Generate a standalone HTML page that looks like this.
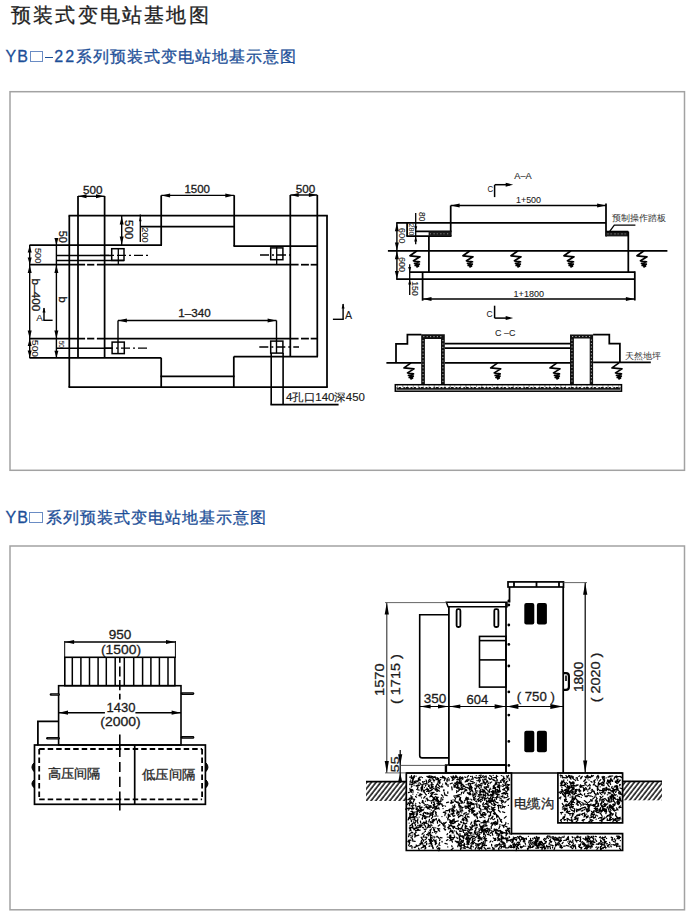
<!DOCTYPE html>
<html><head><meta charset="utf-8"><title>预装式变电站基地图</title>
<style>
html,body{margin:0;padding:0;background:#fff;}
body{width:700px;height:919px;position:relative;overflow:hidden;font-family:"Liberation Sans",sans-serif;}
.t1{position:absolute;font-size:20px;letter-spacing:2.2px;color:#1f1f1f;line-height:24px;white-space:nowrap;-webkit-text-stroke:0.3px #1f1f1f;}
.t2{position:absolute;font-size:16px;color:#1d4f98;line-height:20px;white-space:nowrap;-webkit-text-stroke:0.3px #1d4f98;}
.t2.c{letter-spacing:1px;-webkit-text-stroke:0.3px #1d4f98;}
.box{position:absolute;left:9.5px;width:673.5px;border:1.4px solid #a8a8a8;}
.sq{position:absolute;width:11.7px;height:8.9px;border:1px solid #6a8cc4;}
.dsh{position:absolute;width:7.8px;height:1.6px;background:#1d4f98;}
</style></head><body>
<div class="t1" style="left:11px;top:3px">预装式变电站基地图</div>
<div class="t2" style="left:5.5px;top:47.2px;letter-spacing:1.2px">YB</div>
<div class="sq" style="left:29.5px;top:51.4px"></div>
<div class="dsh" style="left:44.8px;top:56.7px"></div>
<div class="t2" style="left:54.2px;top:47.2px;letter-spacing:2.2px">22</div>
<div class="t2 c" style="left:75.8px;top:47.2px">系列预装式变电站地基示意图</div>
<div class="t2" style="left:5.5px;top:508.2px;letter-spacing:1.2px">YB</div>
<div class="sq" style="left:29.2px;top:512.1px"></div>
<div class="t2 c" style="left:46.4px;top:508.2px">系列预装式变电站地基示意图</div>
<svg width="700" height="919" viewBox="0 0 700 919" style="position:absolute;left:0;top:0" stroke="#000" stroke-width="1.75" fill="none" font-family="'Liberation Sans', sans-serif"><defs>
<pattern id="hatch" patternUnits="userSpaceOnUse" width="3.7" height="3.7" patternTransform="rotate(-52)"><line x1="0" y1="1" x2="3.7" y2="1" stroke="#000" stroke-width="1.45"/></pattern>
</defs><rect x="10" y="91.7" width="674.5" height="378.6" stroke-width="1.5" stroke="#a2a2a2"/>
<rect x="10" y="546" width="674.5" height="363.8" stroke-width="1.5" stroke="#a2a2a2"/>
<line x1="78" y1="196" x2="78" y2="358"/>
<line x1="104.6" y1="196" x2="104.6" y2="358"/>
<line x1="161.2" y1="195.4" x2="161.2" y2="245"/>
<line x1="161.2" y1="357.7" x2="161.2" y2="387.2"/>
<line x1="234.2" y1="195.2" x2="234.2" y2="246"/>
<line x1="233.8" y1="356.5" x2="233.8" y2="387.2"/>
<line x1="290.3" y1="195" x2="290.3" y2="356.5"/>
<line x1="317.3" y1="195" x2="317.3" y2="356.5"/>
<line x1="69.3" y1="215.7" x2="69.3" y2="387.2"/>
<line x1="327" y1="215.5" x2="327" y2="387.2"/>
<line x1="68.5" y1="215.7" x2="327.8" y2="215.7"/>
<line x1="140.5" y1="226.5" x2="234.2" y2="226.5"/>
<line x1="29.5" y1="245" x2="162" y2="245"/>
<line x1="233.4" y1="246" x2="318" y2="246"/>
<line x1="29.5" y1="357.9" x2="161.2" y2="357.9"/>
<line x1="233.8" y1="356.5" x2="318" y2="356.5"/>
<line x1="160.4" y1="376.4" x2="234.6" y2="376.4"/>
<line x1="68.5" y1="387.2" x2="327.8" y2="387.2"/>
<line x1="29.5" y1="264.7" x2="85.1" y2="264.7"/>
<line x1="87.1" y1="264.7" x2="94.3" y2="264.7"/>
<line x1="96.9" y1="264.7" x2="298.6" y2="264.7"/>
<line x1="301" y1="264.7" x2="308.9" y2="264.7"/>
<line x1="310.7" y1="264.7" x2="317.3" y2="264.7"/>
<line x1="29.5" y1="338.6" x2="85.1" y2="338.6"/>
<line x1="87.1" y1="338.6" x2="94.3" y2="338.6"/>
<line x1="96.9" y1="338.6" x2="298.6" y2="338.6"/>
<line x1="301" y1="338.6" x2="308.9" y2="338.6"/>
<line x1="310.7" y1="338.6" x2="317.3" y2="338.6"/>
<rect x="111.7" y="248.7" width="12.3" height="11.7" stroke-width="1.5"/>
<rect x="270.7" y="247.9" width="12.2" height="11.8" stroke-width="1.5"/>
<rect x="112.1" y="342.1" width="12.2" height="11.5" stroke-width="1.5"/>
<rect x="270.7" y="341.1" width="12.2" height="12" stroke-width="1.5"/>
<line x1="118.3" y1="248" x2="118.3" y2="265" stroke-width="1.3"/>
<line x1="276.7" y1="247" x2="276.7" y2="265" stroke-width="1.3"/>
<line x1="118" y1="320.5" x2="118" y2="353.6" stroke-width="1.4"/>
<line x1="276.5" y1="320.5" x2="276.5" y2="353.1" stroke-width="1.4"/>
<line x1="100" y1="255.3" x2="149" y2="255.3" stroke-width="1.3" stroke-dasharray="9 3 2 3"/>
<line x1="260" y1="255" x2="294" y2="255" stroke-width="1.3" stroke-dasharray="9 3 2 3"/>
<line x1="104" y1="348.2" x2="149" y2="348.2" stroke-width="1.3" stroke-dasharray="9 3 2 3"/>
<line x1="259.3" y1="347" x2="299" y2="347" stroke-width="1.3" stroke-dasharray="9 3 2 3"/>
<line x1="56.4" y1="255.5" x2="111.7" y2="255.5" stroke-width="1.4"/>
<line x1="56.4" y1="260.5" x2="124" y2="260.5" stroke-width="1.4"/>
<line x1="56.4" y1="348.3" x2="112.1" y2="348.3" stroke-width="1.4"/>
<line x1="78" y1="196.3" x2="104.6" y2="196.3" stroke-width="1.4"/>
<path d="M78.5 196.3 L86.5 194.3 L86.5 198.3 Z" fill="#000" stroke="none"/>
<path d="M104 196.3 L96 194.3 L96 198.3 Z" fill="#000" stroke="none"/>
<line x1="161.2" y1="195.4" x2="234.2" y2="195.4" stroke-width="1.4"/>
<path d="M161.6 195.4 L170.1 193.4 L170.1 197.4 Z" fill="#000" stroke="none"/>
<path d="M233.8 195.4 L225.3 193.4 L225.3 197.4 Z" fill="#000" stroke="none"/>
<line x1="290.3" y1="195" x2="317.3" y2="195" stroke-width="1.4"/>
<path d="M290.7 195 L298.7 193 L298.7 197 Z" fill="#000" stroke="none"/>
<path d="M316.9 195 L308.9 193 L308.9 197 Z" fill="#000" stroke="none"/>
<line x1="121.7" y1="216" x2="121.7" y2="245" stroke-width="1.4"/>
<path d="M121.7 216.4 L119.7 224.4 L123.7 224.4 Z" fill="#000" stroke="none"/>
<path d="M121.7 244.6 L119.7 236.6 L123.7 236.6 Z" fill="#000" stroke="none"/>
<line x1="140.3" y1="214.5" x2="140.3" y2="242" stroke-width="1.3"/>
<path d="M140.3 216.2 L139 221.2 L141.6 221.2 Z" fill="#000" stroke="none"/>
<line x1="56.4" y1="239.4" x2="56.4" y2="358" stroke-width="1.4"/>
<path d="M56.4 245 L54.4 238 L58.4 238 Z" fill="#000" stroke="none"/>
<path d="M56.4 265 L54.4 273 L58.4 273 Z" fill="#000" stroke="none"/>
<path d="M56.4 338.6 L54.4 330.6 L58.4 330.6 Z" fill="#000" stroke="none"/>
<path d="M56.4 357.7 L54.4 350.7 L58.4 350.7 Z" fill="#000" stroke="none"/>
<line x1="29.7" y1="245" x2="29.7" y2="358" stroke-width="1.4"/>
<path d="M29.7 245.4 L27.7 252.4 L31.7 252.4 Z" fill="#000" stroke="none"/>
<path d="M29.7 264.5 L27.7 257.5 L31.7 257.5 Z" fill="#000" stroke="none"/>
<path d="M29.7 265 L27.7 273 L31.7 273 Z" fill="#000" stroke="none"/>
<path d="M29.7 338.4 L27.7 330.4 L31.7 330.4 Z" fill="#000" stroke="none"/>
<path d="M29.7 339 L27.7 346 L31.7 346 Z" fill="#000" stroke="none"/>
<path d="M29.7 357.5 L27.7 350.5 L31.7 350.5 Z" fill="#000" stroke="none"/>
<line x1="118" y1="320.5" x2="276.5" y2="320.5" stroke-width="1.4"/>
<path d="M118.4 320.5 L126.9 318.5 L126.9 322.5 Z" fill="#000" stroke="none"/>
<path d="M276.1 320.5 L267.6 318.5 L267.6 322.5 Z" fill="#000" stroke="none"/>
<line x1="271.2" y1="353" x2="271.2" y2="404.6" stroke-width="1.6"/>
<line x1="283.1" y1="353" x2="283.1" y2="404.6" stroke-width="1.6"/>
<line x1="270.4" y1="404.6" x2="338.6" y2="404.6" stroke-width="1.6"/>
<line x1="44" y1="308" x2="44" y2="320.3" stroke-width="1.4"/>
<path d="M44 307.5 L42.5 312.5 L45.5 312.5 Z" fill="#000" stroke="none"/>
<line x1="43.3" y1="320.3" x2="52.6" y2="320.3" stroke-width="1.4"/>
<line x1="332.9" y1="319.3" x2="343.8" y2="319.3" stroke-width="1.4"/>
<line x1="343.1" y1="319.3" x2="343.1" y2="304" stroke-width="1.4"/>
<path d="M343.1 303.5 L341.6 308.5 L344.6 308.5 Z" fill="#000" stroke="none"/>
<text x="92.8" y="193.5" font-size="11" fill="#1a1a1a" stroke="#1a1a1a" stroke-width="0.3" text-anchor="middle" textLength="19.5" lengthAdjust="spacingAndGlyphs">500</text>
<text x="197.2" y="192.7" font-size="11" fill="#1a1a1a" stroke="#1a1a1a" stroke-width="0.3" text-anchor="middle" textLength="25.6" lengthAdjust="spacingAndGlyphs">1500</text>
<text x="305.5" y="193.2" font-size="11" fill="#1a1a1a" stroke="#1a1a1a" stroke-width="0.3" text-anchor="middle" textLength="19.5" lengthAdjust="spacingAndGlyphs">500</text>
<text transform="translate(125.2 229.6) rotate(90)" x="0" y="0" font-size="11.5" fill="#1a1a1a" stroke="#1a1a1a" stroke-width="0.3" text-anchor="middle" textLength="19.3" lengthAdjust="spacingAndGlyphs">500</text>
<text transform="translate(142.2 235) rotate(90)" x="0" y="0" font-size="9" fill="#1a1a1a" stroke="#1a1a1a" stroke-width="0.08" text-anchor="middle" textLength="15.5" lengthAdjust="spacingAndGlyphs">200</text>
<text transform="translate(59.3 236.8) rotate(90)" x="0" y="0" font-size="11" fill="#1a1a1a" stroke="#1a1a1a" stroke-width="0.3" text-anchor="middle" textLength="12.2" lengthAdjust="spacingAndGlyphs">50</text>
<text transform="translate(35.1 255.7) rotate(90)" x="0" y="0" font-size="9" fill="#1a1a1a" stroke="#1a1a1a" stroke-width="0.08" text-anchor="middle" textLength="15.5" lengthAdjust="spacingAndGlyphs">500</text>
<text transform="translate(32 295) rotate(90)" x="0" y="0" font-size="11" fill="#1a1a1a" stroke="#1a1a1a" stroke-width="0.3" text-anchor="middle" textLength="32.8" lengthAdjust="spacingAndGlyphs">b–400</text>
<text transform="translate(58.8 299.6) rotate(90)" x="0" y="0" font-size="11" fill="#1a1a1a" stroke="#1a1a1a" stroke-width="0.3" text-anchor="middle">b</text>
<text transform="translate(32 348.5) rotate(90)" x="0" y="0" font-size="9.5" fill="#1a1a1a" stroke="#1a1a1a" stroke-width="0.08" text-anchor="middle" textLength="17" lengthAdjust="spacingAndGlyphs">500</text>
<text transform="translate(59.2 344.3) rotate(90)" x="0" y="0" font-size="7" fill="#1a1a1a" stroke="#1a1a1a" stroke-width="0.08" text-anchor="middle" textLength="7.2" lengthAdjust="spacingAndGlyphs">50</text>
<text x="178.3" y="317.2" font-size="11" fill="#1a1a1a" stroke="#1a1a1a" stroke-width="0.3" textLength="32.4" lengthAdjust="spacingAndGlyphs">1–340</text>
<text x="286" y="401.3" font-size="11" fill="#1a1a1a" stroke="#1a1a1a" stroke-width="0.15" textLength="79" lengthAdjust="spacingAndGlyphs">4孔口140深450</text>
<text x="36.2" y="320.8" font-size="9" fill="#1a1a1a" stroke="#1a1a1a" stroke-width="0.08" textLength="6.6" lengthAdjust="spacingAndGlyphs">A</text>
<text x="345" y="319.4" font-size="10" fill="#1a1a1a" stroke="#1a1a1a" stroke-width="0.08" textLength="7.1" lengthAdjust="spacingAndGlyphs">A</text>
<line x1="450.7" y1="205.5" x2="450.7" y2="236.1"/>
<line x1="606" y1="203.6" x2="606" y2="236.4"/>
<line x1="450.7" y1="205.5" x2="606" y2="205.5" stroke-width="1.4"/>
<path d="M451.1 205.5 L459.6 203.5 L459.6 207.5 Z" fill="#000" stroke="none"/>
<path d="M605.6 205.5 L597.1 203.5 L597.1 207.5 Z" fill="#000" stroke="none"/>
<line x1="396.2" y1="222.9" x2="606" y2="222.9"/>
<line x1="407.1" y1="222.9" x2="407.1" y2="236.1"/>
<line x1="406.3" y1="236.1" x2="451.5" y2="236.1"/>
<line x1="415" y1="231.4" x2="451.5" y2="231.4"/>
<rect x="428.6" y="231.4" width="22.1" height="4.8" fill="#1a1a1a" stroke="none"/>
<line x1="428.9" y1="236" x2="428.9" y2="272"/>
<line x1="387.9" y1="250.8" x2="667.4" y2="250.8"/>
<rect x="605.9" y="231.6" width="22.7" height="4.8" fill="#1a1a1a" stroke="none"/>
<line x1="606" y1="231.6" x2="628.3" y2="231.6"/>
<line x1="607.5" y1="233.9" x2="627" y2="233.9" stroke-width="0.9" stroke="#bbb" stroke-dasharray="1 2.2 0.8 3"/>
<line x1="430" y1="233.8" x2="449.5" y2="233.8" stroke-width="0.9" stroke="#bbb" stroke-dasharray="0.8 2.8 1 2.2"/>
<line x1="628.3" y1="231.6" x2="628.3" y2="272"/>
<path d="M609.7 231.4 L614.3 225.1 L635.4 225.1" stroke-width="1.3"/>
<line x1="409.7" y1="272.1" x2="634.8" y2="272.1"/>
<line x1="396.2" y1="279.2" x2="634.8" y2="279.2"/>
<line x1="634.8" y1="271.3" x2="634.8" y2="300.5"/>
<line x1="422.6" y1="272" x2="422.6" y2="300.7"/>
<line x1="422.6" y1="299" x2="634.8" y2="299" stroke-width="1.4"/>
<path d="M423 299 L431.5 297 L431.5 301 Z" fill="#000" stroke="none"/>
<path d="M634.4 299 L625.9 297 L625.9 301 Z" fill="#000" stroke="none"/>
<line x1="396.9" y1="222.9" x2="396.9" y2="279.3" stroke-width="1.4"/>
<path d="M396.9 223.3 L394.9 231.3 L398.9 231.3 Z" fill="#000" stroke="none"/>
<path d="M396.9 250.4 L394.9 242.4 L398.9 242.4 Z" fill="#000" stroke="none"/>
<path d="M396.9 251.2 L394.9 259.2 L398.9 259.2 Z" fill="#000" stroke="none"/>
<path d="M396.9 278.9 L394.9 270.9 L398.9 270.9 Z" fill="#000" stroke="none"/>
<line x1="415.7" y1="212.9" x2="415.7" y2="244.3" stroke-width="1.3"/>
<line x1="409.7" y1="264.3" x2="409.7" y2="295" stroke-width="1.3"/>
<path d="M415.7 231.2 L414.2 226.2 L417.2 226.2 Z" fill="#000" stroke="none"/>
<path d="M415.7 236.5 L414.2 241.5 L417.2 241.5 Z" fill="#000" stroke="none"/>
<path d="M409.7 271.9 L408.2 266.9 L411.2 266.9 Z" fill="#000" stroke="none"/>
<path d="M409.7 279.4 L408.2 284.4 L411.2 284.4 Z" fill="#000" stroke="none"/>
<line x1="494.6" y1="185" x2="494.6" y2="197.1" stroke-width="1.5"/>
<line x1="494.6" y1="184.7" x2="510" y2="184.7" stroke-width="1.5"/>
<path d="M513.2 184.7 L505.7 182.7 L505.7 186.7 Z" fill="#000" stroke="none"/>
<line x1="494.6" y1="305.7" x2="494.6" y2="318.1" stroke-width="1.5"/>
<line x1="494.6" y1="318.1" x2="510" y2="318.1" stroke-width="1.5"/>
<path d="M513.2 318.1 L505.7 316.1 L505.7 320.1 Z" fill="#000" stroke="none"/>
<path d="M417 250.8 L410 255.8 L420 256.8 L413.5 260.8 L419.5 261.8 L414.5 263.3 L419.3 264.1 L415.2 265.4 L418.6 266 L416.4 267.2" stroke-width="1.7" stroke-linejoin="round"/>
<path d="M470 250.8 L463 255.8 L473 256.8 L466.5 260.8 L472.5 261.8 L467.5 263.3 L472.3 264.1 L468.2 265.4 L471.6 266 L469.4 267.2" stroke-width="1.7" stroke-linejoin="round"/>
<path d="M518 250.8 L511 255.8 L521 256.8 L514.5 260.8 L520.5 261.8 L515.5 263.3 L520.3 264.1 L516.2 265.4 L519.6 266 L517.4 267.2" stroke-width="1.7" stroke-linejoin="round"/>
<path d="M571 250.8 L564 255.8 L574 256.8 L567.5 260.8 L573.5 261.8 L568.5 263.3 L573.3 264.1 L569.2 265.4 L572.6 266 L570.4 267.2" stroke-width="1.7" stroke-linejoin="round"/>
<path d="M644 250.8 L637 255.8 L647 256.8 L640.5 260.8 L646.5 261.8 L641.5 263.3 L646.3 264.1 L642.2 265.4 L645.6 266 L643.4 267.2" stroke-width="1.7" stroke-linejoin="round"/>
<text x="514.3" y="178.7" font-size="8.5" fill="#1a1a1a" stroke="#1a1a1a" stroke-width="0.08" textLength="17.4" lengthAdjust="spacingAndGlyphs">A–A</text>
<text x="487.6" y="192.3" font-size="9.5" fill="#1a1a1a" stroke="#1a1a1a" stroke-width="0.08" textLength="5.6" lengthAdjust="spacingAndGlyphs">C</text>
<text x="516" y="203" font-size="9" fill="#1a1a1a" stroke="#1a1a1a" stroke-width="0.08" textLength="25" lengthAdjust="spacingAndGlyphs">1+500</text>
<text x="513.6" y="296.8" font-size="9" fill="#1a1a1a" stroke="#1a1a1a" stroke-width="0.08" textLength="30.4" lengthAdjust="spacingAndGlyphs">1+1800</text>
<text x="486.6" y="316.5" font-size="9.5" fill="#1a1a1a" stroke="#1a1a1a" stroke-width="0.08" textLength="6" lengthAdjust="spacingAndGlyphs">C</text>
<text x="495" y="335.8" font-size="8.5" fill="#1a1a1a" stroke="#1a1a1a" stroke-width="0.08" textLength="20.4" lengthAdjust="spacingAndGlyphs">C –C</text>
<text x="612" y="221.2" font-size="9" fill="#333" stroke="none" stroke-width="0" textLength="54" lengthAdjust="spacingAndGlyphs">预制操作踏板</text>
<text transform="translate(398.9 235.7) rotate(90)" x="0" y="0" font-size="9" fill="#1a1a1a" stroke="#1a1a1a" stroke-width="0.08" text-anchor="middle" textLength="15.7" lengthAdjust="spacingAndGlyphs">600</text>
<text transform="translate(399.2 264.6) rotate(90)" x="0" y="0" font-size="9" fill="#1a1a1a" stroke="#1a1a1a" stroke-width="0.08" text-anchor="middle" textLength="15" lengthAdjust="spacingAndGlyphs">600</text>
<text transform="translate(409.3 229.6) rotate(90)" x="0" y="0" font-size="7" fill="#1a1a1a" stroke="#1a1a1a" stroke-width="0.08" text-anchor="middle" textLength="12.1" lengthAdjust="spacingAndGlyphs">280</text>
<text transform="translate(419.1 216.7) rotate(90)" x="0" y="0" font-size="9" fill="#1a1a1a" stroke="#1a1a1a" stroke-width="0.08" text-anchor="middle" textLength="9.3" lengthAdjust="spacingAndGlyphs">80</text>
<text transform="translate(411.8 288.5) rotate(90)" x="0" y="0" font-size="9" fill="#1a1a1a" stroke="#1a1a1a" stroke-width="0.08" text-anchor="middle" textLength="14.3" lengthAdjust="spacingAndGlyphs">150</text>
<path d="M386.4 362.9 L421.4 362.9"/>
<path d="M396 362.9 L396 343.9 L407.4 343.9 L407.4 334.7 L421.4 334.7"/>
<path d="M421.2 384.5 V334.3 H444.8 V384.5 H441 V339 H424.9 V384.5 Z" fill="#111" stroke="none"/>
<line x1="423.05" y1="340" x2="423.05" y2="383" stroke-width="0.8" stroke="#ddd" stroke-dasharray="1.2 2.2"/>
<line x1="442.9" y1="340" x2="442.9" y2="383" stroke-width="0.8" stroke="#ddd" stroke-dasharray="1.2 2.2"/>
<line x1="423.2" y1="336.65" x2="442.8" y2="336.65" stroke-width="0.8" stroke="#ddd" stroke-dasharray="1.2 2.2"/>
<path d="M570 384.5 V334.5 H593.1 V384.5 H589.7 V338.6 H573.9 V384.5 Z" fill="#111" stroke="none"/>
<line x1="571.95" y1="339.6" x2="571.95" y2="383" stroke-width="0.8" stroke="#ddd" stroke-dasharray="1.2 2.2"/>
<line x1="591.4" y1="339.6" x2="591.4" y2="383" stroke-width="0.8" stroke="#ddd" stroke-dasharray="1.2 2.2"/>
<line x1="572" y1="336.55" x2="591.1" y2="336.55" stroke-width="0.8" stroke="#ddd" stroke-dasharray="1.2 2.2"/>
<line x1="444.8" y1="343.7" x2="570" y2="343.7"/>
<line x1="444.8" y1="348.1" x2="570" y2="348.1"/>
<line x1="444.8" y1="362.9" x2="570" y2="362.9"/>
<path d="M593.1 334.7 L609.3 334.7 L609.3 343.6 L619.9 343.6 L619.9 362.4"/>
<line x1="593.1" y1="362.4" x2="650.8" y2="362.4"/>
<rect x="395.3" y="384.7" width="226.2" height="6.5" stroke-width="1.5" fill="#fff"/>
<line x1="396.5" y1="388.3" x2="620.5" y2="388.3" stroke-width="2.8" stroke="#111"/>
<line x1="397.5" y1="387.6" x2="619.5" y2="387.6" stroke-width="1" stroke="#fff" stroke-dasharray="1.2 2.2 2.5 1.5 0.8 3 1.8 2"/>
<line x1="397" y1="386" x2="619.5" y2="386" stroke-width="0.9" stroke="#333" stroke-dasharray="1 4 1.5 3.5 0.8 5"/>
<path d="M411 362.9 L404 367.9 L414 368.9 L407.5 372.9 L413.5 373.9 L408.5 375.4 L413.3 376.2 L409.2 377.5 L412.6 378.1 L410.4 379.3" stroke-width="1.7" stroke-linejoin="round"/>
<path d="M497.7 362.9 L490.7 367.9 L500.7 368.9 L494.2 372.9 L500.2 373.9 L495.2 375.4 L500 376.2 L495.9 377.5 L499.3 378.1 L497.1 379.3" stroke-width="1.7" stroke-linejoin="round"/>
<path d="M557 362.9 L550 367.9 L560 368.9 L553.5 372.9 L559.5 373.9 L554.5 375.4 L559.3 376.2 L555.2 377.5 L558.6 378.1 L556.4 379.3" stroke-width="1.7" stroke-linejoin="round"/>
<path d="M619 362.9 L612 367.9 L622 368.9 L615.5 372.9 L621.5 373.9 L616.5 375.4 L621.3 376.2 L617.2 377.5 L620.6 378.1 L618.4 379.3" stroke-width="1.7" stroke-linejoin="round"/>
<text x="625.1" y="359.1" font-size="9" fill="#333" stroke="none" stroke-width="0" textLength="36" lengthAdjust="spacingAndGlyphs">天然地坪</text>
<line x1="64.7" y1="642" x2="175.4" y2="642" stroke-width="1.4"/>
<path d="M65.1 642 L74.1 639.9 L74.1 644.1 Z" fill="#000" stroke="none"/>
<path d="M175 642 L166 639.9 L166 644.1 Z" fill="#000" stroke="none"/>
<line x1="64.7" y1="641" x2="64.7" y2="658" stroke-width="1"/>
<line x1="175.4" y1="641" x2="175.4" y2="658" stroke-width="1"/>
<text x="120" y="638.9" font-size="13.5" fill="#1a1a1a" stroke="#1a1a1a" stroke-width="0.3" text-anchor="middle" textLength="22.6" lengthAdjust="spacingAndGlyphs">950</text>
<text x="121" y="653.8" font-size="13.5" fill="#1a1a1a" stroke="#1a1a1a" stroke-width="0.3" text-anchor="middle" textLength="40.1" lengthAdjust="spacingAndGlyphs">(1500)</text>
<rect x="64.8" y="657.3" width="110.1" height="28.4" stroke-width="1.6"/>
<line x1="72.3" y1="657.3" x2="72.3" y2="685.7" stroke-width="1.5"/>
<line x1="80.9" y1="657.3" x2="80.9" y2="685.7" stroke-width="1.5"/>
<line x1="89.5" y1="657.3" x2="89.5" y2="685.7" stroke-width="1.5"/>
<line x1="98.1" y1="657.3" x2="98.1" y2="685.7" stroke-width="1.5"/>
<line x1="106.3" y1="657.3" x2="106.3" y2="685.7" stroke-width="1.5"/>
<line x1="115.2" y1="657.3" x2="115.2" y2="685.7" stroke-width="1.5"/>
<line x1="124.3" y1="657.3" x2="124.3" y2="685.7" stroke-width="1.5"/>
<line x1="133.7" y1="657.3" x2="133.7" y2="685.7" stroke-width="1.5"/>
<line x1="142.6" y1="657.3" x2="142.6" y2="685.7" stroke-width="1.5"/>
<line x1="150.9" y1="657.3" x2="150.9" y2="685.7" stroke-width="1.5"/>
<line x1="159.4" y1="657.3" x2="159.4" y2="685.7" stroke-width="1.5"/>
<line x1="168" y1="657.3" x2="168" y2="685.7" stroke-width="1.5"/>
<rect x="58.6" y="685.7" width="122.4" height="59.3" stroke-width="1.6"/>
<line x1="51" y1="694.5" x2="58.6" y2="694.5" stroke-width="2.6" stroke-linecap="round"/>
<line x1="51.5" y1="694.5" x2="58.6" y2="694.5" stroke-width="0.5" stroke="#777"/>
<line x1="182" y1="693.6" x2="193" y2="693.6" stroke-width="2.6" stroke-linecap="round"/>
<line x1="182.5" y1="693.6" x2="193" y2="693.6" stroke-width="0.5" stroke="#777"/>
<line x1="47.4" y1="738.3" x2="58.6" y2="738.3" stroke-width="2.6" stroke-linecap="round"/>
<line x1="47.9" y1="738.3" x2="58.6" y2="738.3" stroke-width="0.5" stroke="#777"/>
<line x1="182" y1="737.4" x2="193" y2="737.4" stroke-width="2.6" stroke-linecap="round"/>
<line x1="182.5" y1="737.4" x2="193" y2="737.4" stroke-width="0.5" stroke="#777"/>
<path d="M58.6 721.4 L37.9 721.4 L37.9 745.4"/>
<line x1="58.6" y1="712.7" x2="104.9" y2="712.7" stroke-width="1.5"/>
<path d="M59 712.7 L68 710.6 L68 714.8 Z" fill="#000" stroke="none"/>
<line x1="135.4" y1="712.7" x2="181" y2="712.7" stroke-width="1.5"/>
<path d="M180.6 712.7 L171.6 710.6 L171.6 714.8 Z" fill="#000" stroke="none"/>
<text x="120.9" y="712.4" font-size="13.5" fill="#1a1a1a" stroke="#1a1a1a" stroke-width="0.3" text-anchor="middle" textLength="29" lengthAdjust="spacingAndGlyphs">1430</text>
<text x="120.5" y="725.7" font-size="13.5" fill="#1a1a1a" stroke="#1a1a1a" stroke-width="0.3" text-anchor="middle" textLength="40.4" lengthAdjust="spacingAndGlyphs">(2000)</text>
<rect x="34.5" y="745" width="170.9" height="59.3" stroke-width="1.7"/>
<line x1="134.7" y1="745" x2="134.7" y2="804.3" stroke-width="1.7"/>
<line x1="39.2" y1="749" x2="202.1" y2="749" stroke-width="1.8" stroke-dasharray="5.5 3"/>
<line x1="39.2" y1="799.3" x2="202.1" y2="799.3" stroke-width="1.8" stroke-dasharray="5.5 3"/>
<line x1="39.2" y1="749" x2="39.2" y2="799.3" stroke-width="1.8" stroke-dasharray="5.5 3"/>
<line x1="202.1" y1="749" x2="202.1" y2="799.3" stroke-width="1.8" stroke-dasharray="5.5 3"/>
<line x1="119.8" y1="657.3" x2="119.8" y2="662.7" stroke-width="1.6"/>
<line x1="119.8" y1="666.4" x2="119.8" y2="676.4" stroke-width="1.6"/>
<line x1="119.8" y1="679.9" x2="119.8" y2="690.3" stroke-width="1.6"/>
<line x1="119.8" y1="693.7" x2="119.8" y2="699.4" stroke-width="1.6"/>
<line x1="119.8" y1="734.6" x2="119.8" y2="756.9" stroke-width="1.6"/>
<line x1="119.8" y1="762" x2="119.8" y2="772.1" stroke-width="1.6"/>
<line x1="119.8" y1="776.8" x2="119.8" y2="787" stroke-width="1.6"/>
<line x1="119.8" y1="791.6" x2="119.8" y2="810.6" stroke-width="1.6"/>
<path d="M33.8 763 Q30.1 767.2 33.8 771.4 Z" fill="#000" stroke="#000" stroke-width="1"/>
<path d="M33.8 780 Q30.1 783.75 33.8 787.5 Z" fill="#000" stroke="#000" stroke-width="1"/>
<path d="M206.1 763 Q209.8 767.2 206.1 771.4 Z" fill="#000" stroke="#000" stroke-width="1"/>
<path d="M206.1 780 Q209.8 783.75 206.1 787.5 Z" fill="#000" stroke="#000" stroke-width="1"/>
<text x="47.6" y="778" font-size="13" fill="#262626" stroke="#262626" stroke-width="0.3" textLength="52.8" lengthAdjust="spacingAndGlyphs" font-weight="500">高压间隔</text>
<text x="141.8" y="779.4" font-size="13" fill="#262626" stroke="#262626" stroke-width="0.3" textLength="53.6" lengthAdjust="spacingAndGlyphs" font-weight="500">低压间隔</text>
<path d="M406.3 773 H622.6 V822.9 H557.9 V773 M406.3 773 V850.5 H622.6 V833.7 H511.5 V773" stroke-width="0"/>
<path d="M414.7 847.6h.1M461.9 836.8l2.1 1.3M421.2 790.7h.1M604.7 788.8l0.2 1.1M434.8 801.1h.1M604.2 800.3h.1M594.7 805.3h.1M489.0 818.2l-1.3 2.7M490.3 830.0l-1.0 0.6M568.6 775.3l1.8 1.6M605.4 792.8l-0.7 1.2M501.9 842.1l1.5 1.1M580.6 843.9l-0.4 1.6M611.8 794.5l0.9 1.1M495.8 821.5l-2.6 1.4M504.2 778.8h.1M415.3 827.9l-0.8 0.6M435.7 808.2h.1M457.7 783.9l0.4 2.2M449.4 809.8l0.2 2.4M425.2 845.3l0.3 2.2M603.1 802.2h.1M578.6 846.2l2.0 1.5M561.5 789.5h.1M475.6 843.5l1.8 0.5M436.7 784.5h.1M424.9 790.2l-1.5 1.7M519.4 838.4l1.0 2.5M615.8 813.6l-0.2 2.0M616.0 813.0h.1M613.3 844.6l1.7 0.7M582.7 842.8l1.8 1.3M606.4 783.0l1.2 0.8M483.2 821.0h.1M432.9 812.6l-0.2 1.9M487.6 805.0l1.8 1.4M590.4 820.4l-1.8 1.9M601.5 797.5h.1M598.3 783.4h.1M497.5 834.2l-0.6 0.9M615.8 781.9h.1M447.2 778.5l-0.3 2.0M506.2 832.3l-0.1 1.9M557.9 838.4l-1.2 1.3M409.6 842.2h.1M493.8 819.5h.1M494.1 829.0l0.1 1.0M483.2 822.5l-2.3 0.4M479.4 824.1l1.0 2.8M411.2 820.7l0.3 1.0M448.6 802.1l-2.0 0.6M516.1 848.0h.1M416.1 845.1l1.7 1.0M610.8 805.6l0.6 1.4M467.6 828.5l0.8 0.8M610.6 778.7l0.2 2.9M459.0 813.6h.1M583.0 819.8l0.2 1.4M417.6 813.9l-1.0 1.7M463.0 818.1h.1M484.0 794.0l-0.6 2.2M569.2 787.7h.1M604.4 841.1l1.2 1.4M425.0 825.4l0.8 1.8M587.7 778.8h.1M452.4 805.9h.1M486.1 823.7l-0.4 2.5M605.5 806.1l-1.1 0.4M424.3 816.7l1.5 2.1M422.8 789.5l1.4 2.0M437.2 800.7l2.3 0.9M529.4 844.2h.1M501.0 835.2l0.9 2.7M599.8 792.2l0.7 1.6M490.1 788.1h.1M523.2 837.8l-2.0 1.9M529.0 847.9h.1M600.8 779.6l-1.6 1.6M459.4 790.1l-1.3 1.2M479.4 848.0l-0.3 2.4M559.5 843.9h.1M550.5 839.1h.1M598.5 847.2l-1.6 2.1M497.5 805.6h.1M469.5 848.2l2.1 0.8M574.1 786.9l-0.7 2.7M414.2 781.4l1.8 1.6M570.1 797.2h.1M598.2 843.9l-1.9 0.3M579.6 802.8l1.9 2.3M408.7 809.6h.1M560.6 820.0l0.8 1.3M594.3 813.0h.1M463.9 814.4h.1M589.3 836.7l-0.8 0.9M613.0 818.5l-1.4 1.1M604.6 780.0l-0.3 2.0M440.4 837.5l1.6 0.4M507.4 828.4l1.7 0.6M506.2 847.9l1.8 0.1M579.2 789.0l0.8 1.9M470.8 799.1l1.0 1.0M478.0 837.1l2.3 0.7M493.3 837.9l1.0 0.9M433.1 804.5h.1M572.2 836.6l0.3 1.0M477.9 799.5l0.8 1.9M576.9 837.0l-2.1 1.9M424.3 792.0l1.5 2.5M484.4 808.9h.1M435.6 843.1l-0.3 1.5M583.1 819.6h.1M468.7 842.5l-1.2 0.7M472.8 825.0l-0.7 2.5M409.8 788.5l0.7 2.0M613.8 819.5l-0.9 2.2M587.6 839.3l-0.6 2.8M499.8 843.1l-1.8 2.1M564.6 819.3l-0.3 1.1M433.2 807.6l2.4 0.4M472.6 803.7l-2.8 0.8M550.3 840.2h.1M454.3 830.9h.1M427.6 834.4l-1.0 0.2M459.1 796.2l-2.5 0.9M492.2 800.6l2.8 0.3M472.9 811.6h.1M508.5 789.0h.1M482.9 809.6h.1M596.7 776.9h.1M474.0 842.8h.1M502.6 779.1l-0.9 1.1M577.3 801.9h.1M471.4 844.8l-0.5 1.1M618.9 807.1l2.2 0.3M467.8 792.4l1.6 2.0M459.5 794.6l-2.8 0.9M413.6 808.8l-2.0 0.4M484.1 824.0l-0.0 2.7M612.1 786.5l-0.5 1.4M501.6 832.9h.1M457.3 810.9l0.0 1.1M530.2 840.6l2.0 0.1M500.3 807.2h.1M422.0 843.3l-1.2 0.9M437.9 797.1l-0.8 1.9M463.6 818.6h.1M555.7 837.4l0.5 1.7M453.1 848.2l-2.2 2.0M436.9 803.5l1.0 0.3M565.1 790.8l1.4 1.3M608.0 801.2h.1M493.5 823.4l-1.6 2.2M534.1 841.7l-1.6 0.8M575.3 789.7l-0.2 1.3M473.0 807.7l-1.3 0.6M489.1 778.6l0.7 0.8M464.4 801.0h.1M484.1 832.3h.1M410.7 798.0l-1.5 0.6M573.0 813.2l0.8 0.7M438.9 819.1l0.5 2.0M435.7 827.8h.1M494.0 803.0l1.0 1.3M453.0 776.2l-0.5 2.6M617.3 796.1h.1M453.1 826.4h.1M594.1 791.2l0.4 1.7M419.3 802.7l0.8 1.0M493.3 809.8l0.9 0.8M480.2 805.7l-1.2 1.7M491.0 801.2l2.0 0.3M476.7 792.6l-2.0 0.7M462.9 824.8l-1.0 2.7M484.7 817.7h.1M495.2 805.2h.1M596.6 802.6l1.8 0.8M438.7 787.9l0.7 0.7M458.1 811.3l-0.8 2.0M586.1 848.1l-1.5 0.6M554.8 847.7l-0.7 1.8M468.1 831.0l1.2 1.2M444.8 812.8l1.2 0.3M504.0 832.8l-2.5 1.1M417.9 792.7h.1M491.1 828.5h.1M588.6 837.2l-1.4 1.8M433.4 802.2l0.9 0.6M532.9 845.9l-1.0 1.5M416.8 828.3l1.5 1.9M487.1 797.0h.1M467.7 803.4h.1M618.5 803.2l-1.0 0.8M460.7 810.8l2.1 0.1M437.4 821.5l0.1 1.7M462.4 777.0h.1M473.2 779.1l-1.4 0.0M593.9 810.5h.1M491.9 777.5l-0.6 1.4M502.2 837.6l1.3 0.1M432.0 778.8h.1M473.4 812.9l-1.0 0.1M492.7 835.2h.1M619.6 780.8l-0.9 1.2M490.3 801.6h.1M485.2 822.4l-1.6 0.5M452.0 830.6l1.0 0.6M437.2 800.2l-0.0 1.8M475.8 814.6l-1.5 0.6M499.3 847.6l-0.8 1.1M465.4 825.5l1.4 0.9M620.3 784.5l-0.6 1.3M539.6 841.8l-0.0 2.1M431.0 837.9l-0.9 1.6M489.5 790.8l-0.1 1.1M607.8 784.8h.1M460.5 835.6l-1.3 0.6M466.8 822.9l-1.6 1.2M458.6 835.0h.1M525.1 843.2l0.5 1.1M586.7 782.1l-2.0 1.0M451.0 821.8h.1M448.9 824.8l0.8 1.4M445.4 782.9l1.1 0.5M609.8 820.3l-2.4 0.0M565.6 800.9l2.0 1.0M498.2 836.6l-0.1 2.9M481.2 827.5l1.7 2.1M468.3 839.2l-1.7 0.4M567.1 819.6l0.4 1.5M501.7 847.0l-0.8 1.3M495.3 783.2l0.4 1.6M583.8 838.9l2.7 0.9M425.4 801.2h.1M600.5 846.6l0.2 1.7M506.8 797.5l-2.9 0.3M420.7 808.8l2.3 1.9M451.6 801.7l-0.8 0.8M566.8 792.6h.1M574.2 782.3l-2.6 1.2M482.2 814.5l-1.3 1.0M425.4 812.7h.1M459.7 805.1l0.3 2.1M505.7 838.9h.1M439.8 848.2l-0.9 2.6M614.8 805.0l-2.1 1.3M560.4 785.1l1.5 0.5M589.7 776.6l0.8 0.9M605.0 798.5l-2.7 1.0M601.8 803.6h.1M462.2 801.5l0.8 1.7M503.8 776.8l-0.2 2.1M492.8 790.3l1.1 1.6M456.1 831.1l0.8 2.8M614.1 801.3l1.3 1.8M569.3 777.1l1.7 1.9M498.3 839.7l-0.6 1.0M619.2 837.4l-2.2 1.4M571.5 776.7l-2.2 0.5M565.7 805.4h.1M604.6 778.8l-1.2 1.2M503.1 806.9l-0.8 0.8M431.4 837.6l1.2 0.4M473.4 846.9h.1M508.5 775.4l-1.5 2.4M490.2 833.3h.1M481.2 785.7l-0.1 1.8M530.5 838.3l0.2 3.0M477.3 827.1l-1.4 1.6M488.0 828.5l-0.5 2.9M603.1 808.3l-0.9 0.8M472.6 838.7l-0.4 2.1M478.3 784.7h.1M571.7 818.1h.1M469.2 839.5l0.7 0.7M469.7 792.6l1.0 1.2M466.3 812.5l-2.5 1.2M565.0 814.4h.1M574.0 793.1h.1M484.7 834.0l1.0 2.3M610.4 812.2l2.2 1.9M430.1 845.9l-1.1 0.4M620.2 797.0l-0.6 1.0M554.5 839.3l2.0 0.5M616.7 816.5l1.2 2.1M538.9 845.3l-1.1 0.1M411.5 775.5l-0.1 2.2M586.6 804.6l2.5 0.1M463.0 818.4l-1.0 1.6M457.0 841.3l1.4 1.4M575.8 798.8l1.4 1.5M461.4 841.0l1.0 1.3M577.2 814.9h.1M459.2 789.9h.1M486.5 800.6h.1M490.0 783.5h.1M479.4 834.3l-0.7 2.4M509.2 836.4l0.4 1.1M604.1 784.1h.1M614.1 845.2h.1M611.6 808.2l1.9 2.2M421.8 787.3l0.8 1.1M432.9 813.8l-1.5 1.4M611.2 779.3l1.4 2.1M606.2 812.0l-0.3 1.6M506.9 787.8h.1M411.6 832.1l1.2 0.7M565.6 789.4l-1.6 1.2M472.1 776.2l0.8 1.8M483.4 841.5l-0.2 1.9M478.2 843.8h.1M590.8 841.4l-1.6 0.1M611.2 795.0l1.0 1.9M513.8 844.5l2.0 0.0M464.5 817.5l1.9 0.6M616.1 794.7l-1.2 0.9M461.4 843.0l-0.5 2.8M469.2 838.2l1.2 0.8M459.1 844.3l1.2 2.3M538.4 843.6l2.3 0.5M594.8 797.1l-2.2 2.0M563.5 777.5h.1M576.2 840.7h.1M489.5 800.4l-1.2 0.9M474.6 794.1l-1.6 2.4M477.8 844.9l-2.2 0.3M478.4 794.6l2.7 0.3M567.4 792.4l1.2 1.1M421.4 777.0l-2.2 0.4M495.9 804.5l-1.2 0.2M500.0 826.1l-1.2 2.6M601.5 792.5h.1M572.0 777.4l1.6 1.8M505.1 806.5l-2.7 0.4M418.4 778.5l0.2 1.2M493.5 823.3l2.4 0.4M434.1 777.2l1.7 0.4M507.6 781.2h.1M432.2 796.6h.1M492.6 841.7h.1M485.4 806.9l-0.7 1.7M472.0 832.9l-1.8 0.7M576.2 804.1h.1M470.4 829.1l-0.9 1.6M572.9 814.8l-0.6 0.8M496.3 832.4l1.4 1.1M603.7 777.6h.1M587.4 803.3h.1M435.8 833.5h.1M611.9 794.3l0.0 1.3M541.6 842.2l-1.5 1.1M529.5 846.9h.1M555.6 837.2l0.9 1.9M411.5 802.0l1.5 2.3M608.2 792.4l2.5 0.7M566.1 793.5l2.6 0.2M592.2 789.4l1.4 2.4M453.5 809.7l-1.8 1.2M438.8 847.7l0.6 2.6M455.3 801.2h.1M416.5 826.9h.1M426.9 776.4h.1M536.1 839.8l2.4 0.2M507.4 795.4l0.6 1.4M469.5 793.2l-0.4 1.5M430.7 838.6l1.5 2.3M490.7 812.1l-0.3 2.6M599.4 790.4l2.6 0.3M567.3 808.2l-2.8 1.1M604.6 837.7l-2.1 0.2M592.7 813.1l-1.0 0.0M438.4 803.2l-0.6 2.8M500.5 832.1l1.6 1.0M453.2 807.6l-0.5 2.2M410.2 790.1l2.5 0.6M478.5 847.2l-0.6 1.4M570.3 777.4h.1M436.7 788.6l0.2 2.9M446.2 822.2h.1M415.8 816.6h.1M460.9 828.4l-1.5 0.1M466.6 844.1l1.2 0.8M469.0 838.5h.1M489.2 828.6l0.0 1.8M486.6 798.6l-1.3 0.4M571.9 816.8l-0.7 0.9M593.3 775.6l-2.0 1.1M562.6 777.0l0.9 0.5M412.4 841.0l2.7 0.4M536.4 844.0l0.9 1.1M430.6 788.5l1.8 1.0M487.5 784.6l0.7 1.8M414.9 820.7l2.8 0.1M523.5 845.8l-1.1 1.4M559.2 843.4l1.5 2.0M606.3 787.4h.1M566.5 840.1l-2.8 0.4M531.1 842.0h.1M548.2 847.4l-0.3 1.2M466.8 798.0l0.4 2.7M619.8 793.3l2.2 1.5M449.3 816.1l1.0 0.0M561.2 791.0h.1M591.6 845.5l0.5 1.5M566.7 808.9l-2.3 1.8M450.2 820.8l0.4 1.3M564.4 817.4h.1M418.9 780.6l-2.0 1.2M524.8 839.4l-0.5 0.9M455.9 775.3l-0.1 1.3M536.8 836.9l-1.3 2.1M597.5 815.9h.1M468.4 833.0l2.0 0.1M463.3 819.6l1.2 0.2M469.0 808.3h.1M491.6 844.3l0.1 1.7M492.7 779.2l1.6 0.8M502.4 795.9h.1M597.9 810.4l-2.4 0.8M420.2 825.3l-0.4 1.0M608.6 799.0h.1M429.9 775.9l-2.5 0.8M451.0 776.5l1.7 2.3M451.4 822.9h.1M475.6 829.1h.1M415.1 812.1l-2.7 0.4M460.1 815.8l-1.7 1.8M479.1 805.6h.1M506.6 782.2l-1.7 1.0M486.1 786.6l2.2 0.9M572.8 820.1h.1M494.3 823.2l0.9 2.1M482.5 800.3h.1M552.6 838.4l1.1 1.2M471.8 802.3l-1.2 2.5M455.2 841.0l1.3 0.9M498.1 794.6l-1.1 2.4M476.8 787.8l-1.8 1.3M409.6 808.1l1.8 0.2M484.1 844.5l2.4 1.0M425.8 816.2l0.4 1.3M600.4 847.1l0.2 2.5M576.9 837.0l1.3 0.2M613.7 797.0l-0.3 1.5M574.7 798.7h.1M426.4 841.5l-1.6 1.4M506.3 792.9l1.3 0.6M587.0 802.4h.1M617.6 786.8h.1M609.0 789.2l2.1 1.9M603.1 809.7l1.7 1.6M486.4 808.3h.1M476.9 816.9l0.6 1.6M413.3 779.2h.1M587.5 775.3l0.7 1.1M534.0 838.0l1.0 0.3M571.8 790.9h.1M424.3 787.6h.1M565.7 796.5l0.2 2.6M462.9 835.8l-2.9 0.4M449.7 835.4l0.5 2.6M600.5 840.1l1.0 1.2M496.9 846.1h.1M479.9 790.6l0.6 2.0M492.8 816.8l-0.9 1.4M464.7 777.0l1.0 0.4M596.4 800.9l1.2 0.1M576.2 816.1l-1.4 1.4M577.7 837.8h.1M519.9 836.5l-1.6 1.6M535.7 843.4l1.1 2.7M441.9 816.6h.1M472.7 841.5l-1.8 2.0M574.4 794.3h.1M564.5 777.7l1.9 0.2M479.4 781.1h.1M433.1 807.5l1.6 0.6M495.1 809.6l-2.8 0.5M602.6 837.2l0.3 2.3M410.5 780.0h.1M588.2 776.2l-2.2 1.7M508.5 830.9l1.3 1.5M616.3 789.4h.1M611.8 844.7h.1M583.9 816.9h.1M587.1 837.9l-1.3 1.5M503.0 825.4l0.9 2.1M579.9 808.8l-1.1 1.8M492.3 792.0l0.6 2.3M410.8 840.2h.1M479.7 778.5l-1.5 2.4M581.1 847.4h.1M593.0 820.4l-1.9 1.1M619.4 819.0h.1M600.4 803.8l1.3 2.7M491.7 794.3l1.0 1.5M433.2 819.3h.1M448.6 814.1l1.6 2.3M469.4 810.9l-0.1 1.1M481.9 795.1h.1M418.3 783.1h.1M615.8 812.6h.1M489.5 778.4l1.2 1.0M598.6 844.4h.1M425.7 818.1l-1.2 0.2M561.4 813.9h.1M412.3 827.2l-2.3 0.5M431.5 828.9l-1.6 1.4M495.7 813.8l-1.6 0.6M573.1 801.4l-2.5 0.3M618.7 818.6l2.2 0.3M540.8 847.1l1.0 0.8M412.5 811.3l-1.6 0.2M585.2 814.3l-0.9 2.6M417.2 827.4l-2.1 1.2M604.4 844.6l1.1 2.6M420.8 795.9h.1M482.8 779.4l0.5 2.2M501.8 835.6h.1M459.1 803.5l-0.4 2.0M560.9 846.5l1.6 1.1M467.2 815.9l0.3 1.1M432.4 845.5h.1M433.6 779.5l0.1 1.2M435.2 819.0h.1M585.1 783.6l0.0 1.1M581.2 810.8h.1M453.0 799.8h.1M468.9 806.4h.1M570.0 841.4l-0.4 1.1M552.7 846.8l-0.2 1.1M506.1 779.2h.1M566.2 839.1l2.5 0.4M437.7 808.5l1.8 0.5M436.0 837.1h.1M466.1 838.1l-0.4 1.0M610.4 818.8l-0.3 1.8M607.6 789.0l2.6 0.2M594.7 784.9l1.6 1.6M466.9 820.0h.1M462.1 840.4h.1M481.1 846.9l-0.7 1.5M430.8 776.1l2.4 0.8M437.0 831.5l-2.6 0.6M536.9 845.5l0.9 1.5M485.7 806.6l-0.1 2.2M457.3 782.6h.1M611.1 795.7l0.2 1.3M577.0 779.6l1.1 0.8M423.6 813.6l-0.7 2.1M470.2 809.0l-1.5 1.6M468.7 801.9h.1M561.9 787.4h.1M500.7 830.5l-0.4 2.3M498.9 848.2l-0.1 1.7M442.1 841.9h.1M425.5 839.6h.1M602.8 807.7l1.5 0.8M501.7 840.4l0.2 2.1M577.7 819.4h.1M524.7 840.2l0.1 1.6M497.6 819.6l0.2 2.6M461.4 828.2l1.9 2.0M463.5 840.4l-0.5 2.0M409.7 777.1l1.3 0.1M513.4 838.4l1.1 0.0M474.5 811.1l-2.0 1.0M458.2 801.9l-1.9 0.5M465.4 818.5l1.7 1.1M424.7 823.0l2.0 0.5M502.8 784.4h.1M460.0 833.5l-0.0 1.4M610.4 806.6h.1M504.2 832.6l2.1 0.9M474.9 813.7l-0.8 0.7M438.1 829.7l1.6 1.5M499.5 826.0h.1M470.7 846.5h.1M440.0 821.8l1.0 0.4M602.6 847.8l-1.6 1.7M416.1 832.4l-1.9 1.6M456.9 812.4l-0.1 1.4M421.0 787.6l0.3 2.3M495.2 838.3h.1M619.6 837.2l-0.2 1.5M428.4 824.2l-0.3 2.2M499.2 791.6l-1.5 0.6M474.2 807.7l-1.8 1.8M616.5 807.8l1.5 2.2M496.7 816.2l1.6 0.1M509.3 846.7h.1M596.8 778.3h.1M552.0 836.8l-0.0 1.2M488.3 811.4l-0.6 1.1M461.8 777.5l-1.1 1.4M529.2 840.7l-0.4 2.2M416.4 846.2l-1.7 1.5M591.2 815.7l0.2 1.7M461.0 782.2l-1.2 1.3M601.4 820.2l-1.6 0.5M564.5 785.1l0.9 1.5M441.0 804.0h.1M482.8 828.2h.1M588.2 843.8l-0.3 1.1M485.1 798.4l-0.8 0.8M613.1 807.8l-1.7 0.2M458.8 814.5h.1M417.2 786.7l0.8 1.0M411.9 813.6l2.3 0.7M423.5 783.9l-1.6 1.3M412.3 836.6h.1M429.2 806.5l2.8 0.7M443.5 822.8l1.6 0.2M430.7 832.1l-1.6 1.3M469.1 803.4l2.9 0.3M596.3 815.2l-0.7 1.0M500.7 820.4l1.1 2.0M451.3 810.9l1.5 0.3M561.1 785.9h.1M573.0 848.0l-0.8 0.7M507.7 794.0h.1M592.6 812.3l-1.4 2.5M539.3 837.4l-1.3 0.2M442.5 776.2l2.0 2.1M473.0 778.4h.1M567.3 786.6l-0.5 1.0M485.2 829.8l0.7 2.6M414.0 785.5h.1M616.2 843.4l-1.6 1.7M576.8 818.5l-2.6 0.9M481.2 775.2l-2.1 0.3M442.8 824.7l1.1 1.3M565.2 815.8l-2.0 1.6M420.0 794.8l-1.2 0.7M409.4 808.0l-0.7 2.1M472.2 790.3l0.9 2.0M567.6 788.8h.1M579.2 814.1h.1M577.7 800.8l1.2 0.5M426.7 823.4h.1M580.7 814.2l1.2 0.2M594.9 796.1h.1M488.5 833.0h.1M423.7 809.7l-1.6 0.4M610.1 844.0l-1.5 1.3M437.2 779.3l-1.1 0.2M570.5 782.3h.1M453.8 819.1l0.6 1.1M536.3 836.5l1.3 2.6M436.1 812.4l-0.4 1.6M588.3 807.8l-0.5 1.1M603.6 790.1l0.4 2.9M453.7 819.8l-1.6 2.2M580.7 839.3l-0.7 2.1M456.9 791.5l-0.3 1.1M595.9 847.3h.1M489.2 801.0l0.7 0.7M606.2 841.7h.1M482.7 831.3l-1.2 1.2M443.8 805.5h.1M460.8 811.6l-2.4 0.7M555.7 844.2l-0.3 2.0M609.9 796.3l1.4 2.0M451.5 821.0l0.1 1.2M426.2 820.7l-0.0 2.0M620.3 840.6h.1M606.2 790.5h.1M562.6 818.5h.1M426.0 847.9l-1.1 1.1M472.6 843.2h.1M426.6 821.5h.1M563.2 794.7l1.5 1.6M476.1 784.5l-1.0 0.7M484.4 814.4l-2.3 1.0M565.6 799.6h.1M419.6 779.4h.1M438.5 787.6h.1M417.5 788.4h.1M426.0 780.0l0.7 1.2M543.5 844.2l1.1 2.5M604.1 847.1l2.0 0.6M454.8 827.1l-1.2 0.4M464.4 813.3h.1M561.2 782.1l-0.1 1.2M467.3 807.9l-1.6 0.4M482.0 789.2l1.1 0.9M497.3 837.8h.1M494.8 829.1l1.1 1.1M479.4 788.4l1.1 1.0M598.3 783.3l-0.1 2.7M586.8 839.6l0.9 1.6M434.0 840.7l2.3 1.4M430.6 807.1l-2.4 0.0M455.4 776.8l-2.7 1.3M411.3 845.6h.1M520.1 844.2l-1.2 0.6M481.8 797.9l2.9 0.0M583.2 810.1l-1.2 1.0M426.7 806.1l0.8 2.0M461.6 831.1h.1M582.6 841.5h.1M613.7 800.6h.1M474.0 836.2h.1M560.5 798.8h.1M426.5 829.0l-2.2 0.3M597.5 788.1l0.0 2.5M426.0 804.6l-1.7 0.5M459.0 779.3l-2.2 0.4M499.3 785.2l-0.7 1.9M602.3 777.3h.1M474.5 798.7l-0.9 0.8M480.6 829.5l1.6 0.5M506.6 775.9h.1M465.1 789.1l1.1 0.4M541.5 841.3l-2.5 1.0M464.4 802.5h.1M480.4 780.0l-0.9 2.1M542.5 843.6l1.7 0.5M603.9 809.3l1.1 2.3M469.7 829.6l1.7 0.2M619.3 802.1h.1M490.6 794.3l-0.7 1.0M566.7 789.0l-0.1 1.1M431.3 782.4l0.9 0.7M603.9 783.6h.1M409.7 784.5h.1M606.5 838.4h.1M530.2 845.1l0.5 2.7M454.8 827.4l-1.8 0.4M475.5 796.5l-1.8 1.4M603.1 781.8l-2.0 1.5M583.3 813.3h.1M586.2 785.2h.1M570.0 785.7l-0.5 1.2M602.7 789.7h.1M432.4 827.3h.1M502.3 804.9h.1M475.6 843.6h.1M410.4 829.1l-0.5 1.8M579.7 775.8l-0.9 0.6M411.1 802.3h.1M592.1 791.6l-1.7 1.6M421.5 809.4l-0.4 2.3M493.3 813.3l1.0 0.7M465.0 846.7h.1M486.1 830.7h.1M614.3 811.0h.1M575.6 839.6l0.5 1.1M492.8 807.9h.1M445.0 825.7l0.0 1.8M416.8 811.4l0.3 2.5M430.8 829.6l-0.4 1.5M593.0 815.3l0.2 1.6M534.1 845.8l-1.5 1.5M464.5 844.4l-0.3 2.8M591.2 836.3l0.8 1.1M502.1 837.6h.1M579.3 815.1l-2.6 0.8M484.2 830.7l-0.0 2.3M605.5 842.0l-1.5 1.8M426.9 812.5l1.4 0.8M460.8 794.7h.1M571.0 803.3l2.0 1.5M605.5 841.3h.1M454.7 783.1l1.9 1.2M559.0 837.1l1.1 0.4M504.2 825.8h.1M468.9 811.1h.1M484.6 799.6h.1M608.7 781.2l-0.2 1.6M612.0 807.0l2.2 2.0M486.3 776.0l-0.2 1.8M472.2 809.8l-0.1 2.2M504.3 789.5l1.1 1.5M495.6 789.3l-0.3 2.2M434.5 806.4l-1.8 2.0M609.5 781.8l1.1 2.7M513.3 840.4l-1.5 2.2M513.4 839.5l-1.2 1.6M430.7 842.7h.1M457.2 833.2l1.2 1.6M489.1 815.6h.1M618.8 793.2l2.3 0.0M414.4 819.0l-1.6 0.0M410.0 781.3h.1M473.1 842.9l-0.3 1.4M528.2 846.1l0.9 1.2M536.4 841.3l0.6 2.0M603.6 819.3l-2.4 0.9M602.0 810.4l-2.0 0.7M610.1 816.6l0.2 1.5M502.5 793.4l2.3 0.2M426.8 843.1l-0.2 1.6M589.3 792.9l-1.8 0.8M593.3 844.7l-2.1 0.2M562.2 836.8h.1M569.7 781.3h.1M429.5 841.0l1.9 1.5M592.0 814.5l2.8 0.1M463.4 823.4l1.4 0.5M564.4 782.6h.1M494.8 784.8l-1.4 1.1M585.6 837.0l0.2 1.2M603.7 799.5l-2.9 0.5M508.7 789.9h.1M566.2 804.1l-0.9 1.6M575.9 795.6l1.4 0.2M409.9 805.9h.1M426.8 837.3l-0.6 1.6M409.8 783.1h.1M572.7 799.6l0.8 2.7M460.7 805.9l-1.7 1.1M482.0 828.8l-1.2 0.0M568.3 776.4h.1M494.6 830.4l-1.5 1.3M432.3 813.5l0.3 2.7M409.2 839.9l-1.3 1.7M468.5 785.1h.1M604.0 785.5h.1M410.6 813.5h.1M420.3 809.6l-0.3 1.1M484.1 837.3l2.4 1.5M594.3 804.4l-2.6 1.0M431.6 846.0h.1M483.5 775.8l-1.3 0.5M416.6 794.8h.1M573.2 845.5l0.6 1.5M450.9 831.3l1.5 0.7M469.5 808.8h.1M461.1 787.6h.1M562.9 812.3l-2.4 0.4M579.5 814.8l-1.9 0.3M612.0 797.6l-0.4 2.7M589.7 787.1l0.4 1.2M563.0 817.3l0.6 1.0M487.4 801.4l2.7 1.2M503.5 801.1l-2.0 2.1M542.2 847.4l-0.2 2.4M485.8 778.9h.1M585.0 776.6l0.9 1.2M597.6 812.2l1.2 0.3M590.3 800.9h.1M445.4 811.8l-2.1 0.5M471.7 822.1l-1.0 2.2M567.4 783.4h.1M447.3 837.1h.1M488.8 816.6h.1M451.2 825.0l-1.0 0.8M495.8 781.8l1.3 2.7M502.6 811.8l2.1 0.7M439.6 786.7h.1M439.5 821.6l1.0 0.6M410.5 800.6l-0.9 0.5M553.8 837.7l2.6 0.5M409.3 798.1l0.0 1.1M615.2 789.3l-2.0 0.5M506.7 830.5l-0.6 1.4M465.0 832.8l-0.5 2.3M460.2 776.6l-1.1 2.5M464.2 786.0l1.4 1.4M444.4 824.2h.1M425.4 813.5l2.3 0.6M459.5 846.0l1.8 0.6M411.7 789.3l1.3 1.0M615.6 785.8l2.1 0.3M421.4 797.8h.1M501.0 796.2l1.4 0.8M455.9 776.0l1.8 2.0M615.9 815.7h.1M468.5 837.7l-1.4 0.1M410.7 789.6h.1M431.3 824.8l-1.6 0.5M487.3 834.4l2.2 0.4M617.5 837.3l3.0 0.1M441.2 801.1l-2.8 1.1M617.9 788.2l0.2 2.0M474.5 833.8h.1M613.6 791.6h.1M594.3 783.5l-1.0 1.4M447.7 833.7l-0.7 1.0M588.2 841.9h.1M484.7 804.6h.1M492.9 816.2h.1M490.8 802.5l1.3 2.2M415.8 831.9h.1M584.3 800.6l2.3 1.8M458.0 787.4l1.1 1.1M501.1 808.0h.1M409.0 833.8l0.1 1.9M469.7 794.3l1.2 0.4M614.8 819.0l0.0 1.6M580.2 793.4l2.1 2.0M483.0 812.5l1.8 0.1M431.3 810.1h.1M595.0 842.2l-1.1 0.6M488.4 777.8h.1M606.7 787.4l-0.3 1.9M580.5 809.6h.1M485.8 814.7h.1M591.0 804.0l-1.2 2.0M564.1 836.2h.1M583.8 788.3l-0.3 2.8M482.0 845.3l3.0 0.3M592.6 796.5h.1M607.8 803.9l-2.2 0.4M484.1 786.9h.1M453.9 784.4l0.3 2.9M465.0 790.7h.1M457.3 796.1l2.0 0.6M605.5 848.2h.1M411.7 782.2l1.3 0.7M568.0 818.8l1.6 1.2M617.8 788.3l-0.8 1.4M491.7 811.6l-2.0 0.7M604.5 803.3l1.8 1.5M477.6 813.1l-1.1 1.8M498.3 805.1l2.8 0.7M490.5 835.7h.1M582.2 776.4l-1.4 2.4M425.2 829.9h.1M501.5 819.6h.1M587.2 836.2l1.2 0.0M424.5 812.3l-1.4 1.3M595.2 800.9l2.0 0.9M433.1 784.5h.1M618.0 789.8h.1M456.5 809.8h.1M492.8 779.6l2.0 1.2M434.5 819.9l-2.4 0.3M443.1 797.3h.1M611.2 817.4h.1M432.7 787.7l1.7 1.2M457.5 802.8l1.5 0.4M428.3 826.9l2.1 0.2M480.4 843.4l-1.0 0.4M469.2 786.0l1.6 0.0M488.0 793.0l-0.7 2.1M560.1 845.2l-0.2 1.1M586.7 814.0h.1M514.7 846.4l-2.7 0.9M572.9 807.5h.1M600.4 808.5l-0.2 1.4M467.3 792.8l1.1 0.9M473.0 781.3h.1M578.3 840.5l-2.9 0.2M583.0 838.3h.1M582.3 844.0l2.2 1.3M585.9 804.0l-2.3 0.0M481.3 791.6l-0.9 1.1M567.2 819.8l0.3 1.0M610.5 780.0l-1.0 1.7M450.9 829.9l-1.3 2.6M587.4 775.4l-0.8 0.8M575.5 796.1l0.0 2.2M430.1 812.0h.1M603.1 788.3h.1M617.4 799.2l0.8 2.1M555.9 842.8l0.5 2.9M518.2 844.1l-0.9 0.8M481.6 814.8l2.0 2.1M580.5 837.8l-0.2 1.6M420.2 844.7l-1.4 0.7M438.7 807.7h.1M600.2 836.5h.1M416.3 809.2l2.4 1.8M566.0 775.6l1.6 1.9M451.2 800.3l0.7 1.0M427.3 804.5h.1M462.1 801.5h.1M447.2 778.9h.1M604.8 809.2l-2.4 0.8M459.6 838.1l1.3 1.7M460.6 815.1l2.4 0.9M461.5 787.6h.1M564.6 808.6l-2.2 0.4M580.1 801.6h.1M465.2 833.8l1.6 0.8M598.0 775.3l-1.1 2.1M479.7 807.1l-0.4 1.0M594.4 781.2h.1M446.7 817.0h.1M576.7 789.3l-1.2 2.1M444.9 843.3l2.4 0.7M447.9 839.6l-1.4 0.9M471.6 808.8l1.0 0.3M598.2 805.9h.1M619.6 848.3l1.1 1.4M489.3 809.0h.1M424.8 837.2l1.7 0.2M613.0 801.0h.1M591.5 776.1h.1M578.1 817.8l-0.5 1.9M572.2 787.1l-2.8 0.9M598.1 793.3l0.1 1.1M485.5 845.2h.1M599.1 812.9h.1M612.6 797.0l-2.0 0.8M600.4 813.1l1.5 2.6M425.7 822.5l1.4 1.1M432.2 792.5l-1.6 0.8M452.2 832.9l1.4 0.0M609.0 811.3l1.3 0.4M475.3 839.8l-2.1 1.7M507.4 833.4l-1.5 2.4M461.3 800.5l-0.1 2.9M456.8 837.4l0.6 1.1M525.1 838.5l-1.1 0.7M433.1 793.9l-1.8 0.6M419.4 778.7l0.6 0.9M602.8 778.0h.1M419.1 817.0h.1M436.2 815.9l-1.4 0.2M450.6 824.9h.1M477.1 831.8h.1M605.0 788.0l0.2 2.2M546.8 836.8l1.6 1.6M432.3 789.4l-1.4 1.5M438.4 800.4h.1M505.9 837.9l1.6 0.8M476.2 783.0h.1M587.5 786.1h.1M415.6 824.9l-0.3 1.0M568.6 838.2l-1.2 0.7M620.0 788.0l1.5 0.6M440.4 777.5l2.9 0.3M616.9 809.6l-1.6 0.9M605.3 847.2l-1.6 0.2M491.8 823.9h.1M492.1 817.0l-1.5 2.0M574.1 797.6l0.3 1.9M437.3 789.5l2.3 1.7M467.5 779.2h.1M481.9 846.3l0.0 1.7M470.3 781.0h.1M485.5 794.6l-0.3 2.6M484.3 829.2l2.2 1.4M471.7 811.9l0.3 1.4M473.5 797.6l1.0 2.7M409.9 801.1l1.2 2.1M499.0 784.6l-1.7 2.3M481.3 844.0l-2.0 0.1M595.8 804.1l-1.5 2.0M452.5 823.6h.1M444.8 815.6h.1M585.7 787.6l1.4 2.2M482.1 830.7l0.1 1.3M463.2 785.1l0.5 1.6M436.6 786.8l0.6 0.9M566.2 782.5l-1.6 2.5M424.3 832.1h.1M498.4 805.4l0.1 2.4M500.9 838.3l0.4 1.4M604.5 776.6l-0.4 1.1M466.3 797.2h.1M607.4 818.9l-0.3 1.6M617.7 843.4l-0.2 1.3M487.7 798.0l2.3 0.6M497.5 782.1l1.7 1.2M460.2 798.8h.1M586.1 844.8l-2.1 1.5M458.3 814.3l-0.5 1.2M539.5 843.4l2.6 1.0M580.6 784.8l-0.7 1.8M419.7 785.2l-1.5 0.6M409.1 823.1h.1M502.8 843.9h.1M578.2 794.2l-0.7 1.6M506.0 801.4l-1.1 1.3M434.2 820.6l-2.5 1.5M571.3 819.4l-0.1 1.4M476.0 801.2l1.0 0.7M607.3 843.6l-1.1 0.3M429.4 840.1l0.8 1.7M543.7 845.9l-1.6 2.0M412.1 790.7h.1M489.2 831.1l-0.9 1.9M461.2 843.3l-2.1 0.5M490.7 789.2h.1M611.8 801.6l-2.4 0.5M591.8 837.2l1.7 1.6M565.6 808.2h.1M573.7 811.4l0.8 0.7M549.8 836.0l0.3 1.5M570.0 792.2l-2.2 1.0M431.5 783.8l-0.6 1.2M467.4 839.0h.1M475.2 830.3l-0.8 2.0M433.1 810.8l0.1 1.5M572.8 788.0l1.5 0.9M465.7 846.9l2.7 0.8M428.7 839.4l2.1 0.7M421.9 824.8l-1.1 2.2M579.0 844.6l0.6 2.8M498.0 834.1h.1M589.6 784.4l0.7 1.4M412.0 786.2l-0.7 1.0M447.9 784.5l0.2 2.0M423.5 846.5l-2.4 1.7M485.9 807.9l1.3 0.5M585.5 796.5h.1M417.6 806.6h.1M615.3 820.0l1.6 1.2M464.4 843.5l-1.0 2.0M573.1 784.3l0.4 1.7M483.2 804.7l-0.1 1.1M575.4 846.1l0.3 2.5M422.9 800.5l0.2 1.7M436.4 818.6l-0.2 1.4M561.6 819.4l-1.2 1.2M573.0 839.8h.1M498.5 810.2l1.8 1.9M571.4 806.4l2.0 0.1M596.1 811.6l0.9 0.9M499.3 797.0l-2.5 0.4M497.3 791.2l-0.6 1.5M466.9 790.2l-2.4 1.0M488.9 782.0h.1M449.7 828.5l-1.4 0.3M546.6 845.4l0.4 1.8M571.5 810.2l2.3 0.9M617.3 801.3l1.0 1.1M507.9 837.7l-0.1 2.9M535.3 845.1l2.1 1.6M431.0 795.5l-1.1 1.4M452.3 783.2l-1.6 0.3M474.7 777.3l2.2 0.9M517.4 836.6h.1M501.2 799.9l0.2 1.5M438.5 781.0h.1M618.7 793.6l2.5 0.9M481.2 801.6h.1M447.7 846.9h.1M494.9 807.4l-2.0 0.5M524.1 840.6h.1M432.0 796.2l1.9 2.0M475.0 828.0h.1M482.5 837.8l-2.8 0.6M454.9 815.7l-1.5 0.6M596.0 802.4l-0.3 1.6M604.4 805.4l-1.4 1.5M437.9 845.8l-1.2 1.4M580.5 806.0h.1M595.4 785.7l2.3 1.2M480.0 800.6l0.6 1.4M432.8 812.1l-2.1 1.4M459.2 777.5h.1M415.4 820.1l0.3 1.9M506.6 831.7l0.0 1.8M615.7 789.6l-1.0 0.7M468.7 805.9l-0.1 2.6M460.4 798.2h.1M614.9 797.3l-1.7 2.2M620.3 817.3l-1.3 0.6M433.6 839.7l2.3 1.6M554.8 840.0l-0.0 1.2M410.5 819.1h.1M461.9 809.1l0.3 1.4M532.6 846.8h.1M409.1 803.7h.1M489.9 806.2l-1.4 0.3M564.2 807.2h.1M413.2 791.9h.1M596.5 803.3h.1M593.2 817.3l0.8 1.0M419.9 814.3l1.2 0.6M421.9 802.3l2.2 1.1M475.9 827.9h.1M459.9 830.3l-0.2 1.2M575.5 789.6l-0.6 2.2M560.6 776.9h.1M469.2 788.9l0.5 1.3M564.4 782.4h.1M484.6 790.5l-1.7 2.0M457.1 776.9l-2.6 1.3M589.7 795.9l1.6 0.2M516.6 839.3h.1M597.1 798.5l-1.2 1.3M587.9 841.1h.1M463.3 838.8h.1M426.9 788.1l1.1 2.7M603.5 785.6h.1M614.0 787.2h.1M585.0 780.8h.1M587.8 845.6h.1M591.3 836.6h.1M570.1 844.5h.1M430.5 814.6l-1.2 2.3M568.2 804.2l1.4 1.8M591.6 801.0h.1M478.8 844.8h.1M562.5 777.8h.1M608.5 780.6h.1M550.5 844.9l2.7 0.7M459.6 840.9l-1.1 1.0M617.8 820.7l-1.5 1.2M485.3 809.2l2.1 0.3M453.3 776.0l0.3 1.5M469.8 811.4h.1M479.6 808.3l1.5 1.3M471.1 779.3h.1M551.7 841.3l-0.8 1.3M581.2 842.5h.1M416.9 817.6h.1M421.3 788.2l0.5 2.9M421.6 840.5l-0.5 1.0M571.8 796.9l1.8 1.9M426.6 807.3l1.3 1.6M496.3 829.2l-1.5 0.7M413.4 821.0h.1M580.1 809.3h.1M564.0 819.4l1.5 0.2M476.7 804.7l0.4 2.8M561.8 780.9h.1M561.6 792.4l1.2 2.0M422.8 785.9l-0.5 1.7M478.9 804.7h.1M604.3 817.2h.1M429.8 809.3h.1M599.7 783.5l-0.1 1.1M494.7 799.2h.1M423.3 814.9l1.6 1.1M431.9 825.3h.1M458.9 789.4h.1M588.1 840.3l0.9 1.9M430.7 840.6l1.9 0.6M422.4 800.5l-0.0 1.1M572.0 799.5l-1.7 2.5M459.9 776.9l-0.9 2.4M478.5 835.5l1.4 1.3M591.8 840.8l0.0 2.5M411.1 827.9l-1.1 0.5M517.0 846.7l1.6 1.9M436.4 799.9h.1M610.2 815.8l-1.1 0.2M501.8 793.7l1.4 0.2M588.7 789.5h.1M411.9 811.1l1.7 1.8M433.1 786.4l-1.8 1.2M468.2 816.7l1.0 0.4M504.2 846.6l1.3 1.2M413.0 813.4l-2.0 1.6M481.4 842.5l2.1 1.1M418.6 781.0l-1.8 0.5M595.9 795.9h.1M486.9 806.6h.1M442.0 804.8l0.7 1.6M408.5 808.2l-2.8 1.0M467.8 830.1l0.1 1.7M411.6 820.0h.1M619.7 836.7l-0.5 1.8M600.4 797.9l-0.6 1.9M425.7 806.8h.1M492.2 799.0h.1M451.6 839.3l-1.6 1.2M607.8 806.7l-0.8 1.2M490.0 848.1l-2.6 0.3M435.8 800.7l2.2 0.8M619.1 836.1l-2.6 0.1M434.6 831.0l2.1 1.2M434.1 792.3l-1.4 0.2M448.3 814.1l-0.0 1.8M422.2 807.1l-2.5 1.2M595.0 808.9l1.6 1.6M453.9 779.5l-1.7 0.9M420.2 830.1h.1M467.6 802.3l0.9 1.1M444.3 792.6l0.6 2.4M614.1 819.3h.1M498.5 808.7h.1M460.7 797.5l-0.8 0.5M435.2 842.5l1.4 1.2M410.4 791.1h.1M417.6 827.1l2.5 0.1M606.1 777.8h.1M473.1 810.5l1.7 0.3M460.5 778.4l1.3 0.2M587.5 806.0h.1M443.5 790.3h.1M590.8 842.9l-0.8 1.2M593.0 813.1l-1.6 0.3M498.9 817.5l1.5 2.4M602.3 844.1l-0.8 1.0M593.8 810.8l-0.3 1.6M409.8 814.5l0.3 2.7M416.7 789.5l2.5 0.7M508.1 823.7h.1M605.7 799.2l1.1 1.4M600.9 820.7l1.3 0.3M457.4 781.3l-1.3 1.4M484.9 813.4l0.3 2.0M480.0 797.0l3.0 0.2M480.1 795.4l-2.2 0.9M588.2 845.2l-2.0 1.7M536.8 841.5l-1.8 0.3M428.9 843.8h.1M581.2 797.3h.1M430.8 834.0l-0.8 1.3M483.5 781.3l0.8 1.0M412.8 777.1l1.5 0.5M429.3 785.2l-0.8 1.2M499.0 792.6h.1M428.4 790.6l0.8 1.4M574.5 802.6h.1M597.6 806.5l-1.2 0.0M553.7 836.9l-1.7 0.0M605.7 809.8l1.0 1.3M599.0 842.8l-0.9 1.6M572.3 820.0h.1M598.1 775.9l0.7 0.9M594.2 808.3h.1M572.7 840.3l0.2 2.2M619.3 800.2l2.3 1.0M569.9 802.7l-2.0 1.7M559.9 847.3l1.8 0.8M473.0 792.0h.1M464.3 843.3l0.5 1.3M434.8 797.2l-0.2 1.3M566.5 804.9h.1M478.5 784.9l1.9 0.4M478.9 833.7l0.7 1.0M517.3 842.3l2.3 0.1M611.0 817.0l-1.2 1.2M474.0 815.0l2.7 0.1M549.4 840.4l1.1 1.3M608.2 797.4l0.4 2.9M462.6 845.0l-2.3 0.9M442.5 784.1h.1M471.6 832.7l-0.9 1.3M443.0 808.5h.1M619.9 776.4l2.1 1.2M583.3 807.6l-2.7 1.3M415.1 811.8h.1M529.9 845.0l-0.1 1.2M493.9 797.4h.1M466.6 787.3l2.4 1.0M477.3 825.2l-1.5 0.6M572.3 802.4h.1M506.6 787.2l1.1 2.6M468.7 798.8l-1.1 0.6M462.9 786.6l-2.0 1.8M449.0 828.0l1.4 0.6M513.2 841.7l-0.7 1.1M503.0 806.1l1.4 1.5M479.6 817.1h.1M586.8 809.0h.1M449.1 778.8l-0.1 1.9M417.5 808.1l-1.6 0.9M535.7 848.1l2.8 0.1M418.4 806.1l1.0 1.0M520.3 836.2l1.2 1.1M431.8 840.7l-1.9 0.5M568.3 789.5l-1.0 2.2M443.8 776.7l0.8 1.1M505.1 838.4l-2.6 0.5M412.3 817.1l-2.6 1.2M409.8 799.2l-1.9 0.5M619.5 776.5l-2.8 0.2M589.0 780.0h.1M412.6 797.0l-1.8 1.0M424.7 846.9h.1M430.4 781.1l-1.0 0.5M429.2 779.4l1.7 0.9M492.8 799.9l0.9 2.2M431.3 790.3l-2.5 0.9M500.5 780.7l0.8 1.7M437.2 777.7l1.5 1.1M437.8 784.3l1.5 1.8M592.9 817.1l1.6 0.2M598.2 803.4l0.5 2.7M603.2 808.7h.1M430.5 836.6l0.1 1.4M594.4 804.9l1.0 2.4M483.6 789.8h.1M453.9 813.8h.1M602.0 801.2l-0.9 2.7M473.9 814.8l1.0 0.2M610.6 805.5l0.3 1.5M452.2 808.2h.1M497.6 776.3h.1M613.5 796.0l-2.8 0.4M472.6 808.5l-1.6 1.3M591.8 791.6h.1M593.5 815.6l-1.0 1.2M616.2 780.8h.1M486.5 801.1l0.4 1.7M449.9 838.4h.1M435.7 807.0l1.2 0.3M410.3 792.0l-1.9 0.6M592.9 804.8l0.5 1.4M487.8 811.1h.1M494.0 795.0l-2.8 0.3M422.1 842.3l0.8 1.2M489.5 789.4l-0.2 3.0M417.8 780.9l-2.6 0.3M416.0 776.2h.1M492.7 819.2h.1M496.5 846.6l-1.6 0.2M429.9 790.8l-2.0 0.6M545.2 847.5l-2.8 0.3M410.5 781.9l2.8 1.1M481.7 783.4l-1.6 0.8M463.3 836.6h.1M422.4 777.6h.1M464.1 791.6l-0.6 1.7M588.6 838.6l-1.7 0.3M609.3 814.6l-2.2 2.0M410.9 784.1h.1M438.8 802.7l0.6 2.1M609.6 842.4h.1M467.8 798.2h.1M504.0 796.9h.1M458.7 823.5h.1M433.0 779.8l1.7 0.6M419.7 782.8l1.3 1.6M479.9 840.1l-1.6 1.2M538.6 844.5l0.7 1.4M448.3 777.5h.1M413.9 808.2h.1M559.3 839.0l-2.4 1.4M410.0 816.4h.1M512.3 839.1l-0.4 1.2M430.7 826.5h.1M605.1 836.3l0.5 0.9M414.1 847.2h.1M412.2 824.3l0.7 2.4M585.7 807.7l0.6 2.4M484.1 847.5l1.8 1.9M550.5 837.1h.1M615.4 818.7l2.7 0.5M441.9 785.7l-0.6 1.1M453.4 802.1l-2.5 1.3M603.4 818.5l1.2 0.2M412.5 814.7h.1M409.6 843.0l-0.9 2.7M419.1 825.1l0.9 0.9M556.9 837.9l1.5 1.4M486.4 828.6l-1.2 1.0M492.3 833.5l0.3 1.2M503.6 842.2l1.7 1.9M489.7 775.6l1.7 0.7M602.1 799.2l0.0 2.7M445.7 783.8l0.9 1.1M449.3 819.7l1.4 0.9M448.7 837.2l2.0 0.8M465.4 825.8l-0.2 2.8M459.9 839.1l-0.6 0.9M472.8 804.6h.1M430.5 805.7h.1M602.1 805.2l0.7 2.7M426.0 807.5l1.7 0.1M585.0 807.0l-0.8 0.8M570.5 794.9h.1M493.4 803.0h.1M500.7 831.1l1.7 1.2M418.7 829.3l-1.4 0.5M432.4 841.3h.1M574.6 793.7h.1M544.0 839.9l1.7 1.9M485.4 803.5l1.6 1.0M451.4 839.6l1.0 2.5M499.3 784.8l0.9 1.2M613.2 808.7l1.4 2.2M540.1 847.6h.1M503.7 843.8l-1.6 0.3M445.7 813.3l-0.7 1.1M483.0 806.4l1.7 0.5M411.8 805.6l1.1 2.3M588.7 795.1l-1.9 1.7M437.3 798.9l0.5 1.0M490.7 815.2l-1.5 1.1M450.7 835.0l0.2 1.6M568.7 775.4l1.4 0.1M428.5 782.5h.1M618.6 792.6l2.1 1.4M499.6 789.8l0.7 1.8M413.6 805.6l-1.8 0.4M420.7 826.2l-2.1 1.5M496.0 830.4l-0.6 2.8M592.6 813.5l-1.2 0.2M465.3 816.7h.1M555.9 839.5l2.7 0.1M591.5 811.3l1.1 1.4M571.4 847.5h.1M577.0 795.7l2.6 0.9M447.8 791.8l-0.0 1.5M560.3 844.9l1.5 1.1M499.8 800.2h.1M488.7 798.3h.1M502.2 800.3l1.5 1.5M483.7 838.7l1.8 0.8M476.9 846.8h.1M579.0 814.4l0.8 0.9M611.1 813.1l-1.0 0.3M499.9 824.6h.1M602.8 808.9l-0.6 2.5M573.7 800.1h.1M461.6 792.3l-0.2 1.2M611.8 839.3l0.3 1.2M541.5 847.1h.1M432.2 778.5h.1M600.1 786.8h.1M417.9 818.8l-0.5 2.5M561.0 797.0l-1.9 1.3M570.6 804.6l1.1 1.4M414.7 799.2l-1.2 2.2M483.5 826.9l-1.0 0.7M571.3 790.6l-2.5 1.1M582.4 814.9h.1M495.4 797.6h.1M436.1 839.9h.1M544.6 838.4l-1.0 1.3M603.8 782.3l-1.2 2.3M441.9 841.3h.1M473.8 804.6h.1M460.8 831.4h.1M590.0 817.4h.1M479.2 775.6h.1M450.2 783.8h.1M590.6 846.2l-0.4 2.0M508.5 840.6h.1M509.0 833.7l2.6 0.5M409.5 817.5l-1.3 2.4M569.4 803.7l-1.8 1.3M410.5 840.1l-2.1 2.0M486.5 781.7l1.0 0.3M567.7 810.0l-1.4 2.2M463.0 803.1h.1M474.7 821.7l-0.5 1.0M426.4 806.2l-0.0 1.0M521.4 846.6l0.2 1.2M432.0 821.8l1.2 1.2M602.5 796.7h.1M615.1 803.9l-2.3 0.4M419.1 806.7h.1M569.3 781.8h.1M482.2 814.8l2.9 0.2M597.7 808.3l-2.3 0.0M501.0 846.3h.1M485.7 822.4h.1M496.6 822.4l1.2 1.4M449.7 809.1l1.9 0.1M426.5 843.4h.1M553.9 837.5l-0.1 1.4M595.5 779.8l-1.6 1.0M582.9 787.6l2.3 1.7M591.2 790.2h.1M528.6 847.7l-1.0 2.2M513.9 838.8l1.3 0.6M612.2 794.5l1.3 1.0M414.7 834.0l0.7 2.2M537.9 838.5l1.4 0.4M460.1 816.4l-1.5 0.3M490.9 841.0l-1.0 1.1M570.8 820.2l2.1 2.0M485.2 841.1l-0.3 2.3M558.2 845.0h.1M577.6 819.0h.1M410.9 837.7h.1M514.6 843.3l-1.8 1.2M415.6 796.5l0.9 0.7M468.2 804.4l-0.2 2.8M461.0 780.1l-0.1 1.4M596.3 797.6h.1M412.6 835.0h.1M472.1 846.1l-1.7 1.7M477.1 785.7l1.9 1.7M487.3 828.1l0.8 1.0M448.7 809.9h.1M609.0 780.0h.1M433.0 812.7l-1.4 0.1M511.4 839.4l-1.2 0.7M591.4 843.2l2.3 1.3M609.0 801.4h.1M573.3 813.3h.1M443.9 828.4l1.3 1.8M501.9 825.1h.1M479.6 793.8l1.7 0.6M475.6 801.1l1.1 0.1M610.7 845.9l0.6 0.9M484.3 837.1l0.1 1.3M603.8 842.6h.1M604.1 790.7h.1M508.4 847.4h.1M573.7 787.3h.1M569.9 811.3l-2.5 0.8M429.4 833.4l1.3 2.3M501.8 786.0l1.4 0.5M561.2 837.7l-0.5 2.3M451.6 825.3l1.5 2.5M494.5 822.9l2.5 1.4M408.6 802.8l-1.2 1.7M576.2 793.5h.1M424.1 834.9l-1.0 2.4M587.7 791.0h.1M492.4 791.3l-1.5 0.5M414.3 775.5l-0.0 1.4M563.1 842.3l-1.0 1.4M430.9 835.2l1.2 0.9M429.5 819.3l-0.7 2.7M442.9 799.0l-0.3 1.0M561.9 781.4l0.7 1.7M573.4 804.6h.1M480.0 832.6l1.5 0.3M546.4 841.4l-0.6 1.7M574.0 837.3h.1M486.7 825.9h.1M495.8 802.2l2.3 0.7M495.5 822.3l-2.7 0.5M601.6 794.6h.1M586.6 845.6l-0.8 2.8M479.9 784.8l-1.0 1.3M585.7 838.2l-0.2 1.1M586.9 809.5l2.4 1.3M612.3 838.6h.1M428.2 800.0l1.1 0.5M530.3 842.9l1.6 1.6M564.5 799.4l0.3 2.3M494.0 813.1h.1M411.0 835.9h.1M613.3 813.8l-0.9 1.2M589.4 805.3h.1M494.1 840.3l1.3 0.1M467.7 846.5h.1M435.1 776.5l-2.0 1.4M455.0 806.7l-0.5 1.2M427.3 799.0l0.2 1.6M426.6 781.8l0.5 2.4M454.7 797.4h.1M584.4 809.7h.1M540.8 842.1l1.6 0.3M460.8 822.6h.1M415.0 805.0h.1M568.0 787.3h.1M494.6 818.7h.1M481.2 827.2h.1M469.1 787.9h.1M418.8 835.1l-2.8 0.8M616.6 776.4h.1M570.9 791.3h.1M494.5 800.0l0.9 1.5M492.8 847.6l0.4 2.7M502.8 795.9h.1M437.0 836.3l2.1 2.0M618.2 781.4l-0.1 1.5M491.7 782.0l-1.2 0.5M616.8 785.7h.1M462.9 819.8l0.5 1.0M535.9 842.4l-1.4 0.2M572.3 796.0l-0.1 2.4M518.6 842.2l0.8 2.1M488.5 820.8l-1.7 1.0M447.7 818.4l0.3 1.6M469.2 779.2l-1.8 2.2M572.9 781.7l1.2 1.9M479.5 847.8l2.2 1.2M569.6 807.7h.1M561.4 840.7h.1M445.4 806.2h.1M418.2 809.4l1.0 0.8M485.4 783.4l-1.0 0.6M612.5 780.9h.1M610.9 776.5l-2.8 0.6M589.2 806.7l-0.1 1.8M483.5 836.2l1.3 1.4M500.4 821.2h.1M597.6 792.6l-0.6 1.5M605.2 788.6l-2.6 0.5M496.6 833.7l2.8 0.1M497.7 815.4h.1M598.5 782.5l0.7 1.7M461.2 784.3l1.8 0.1M479.5 812.1l0.4 1.0M453.8 810.0l-0.2 2.2M561.2 783.6l1.0 2.1M414.9 818.0l-0.6 1.4M413.3 777.7l-2.1 0.7M589.5 801.7h.1M578.1 784.9l-2.1 1.1M567.2 839.4h.1M466.9 834.8l1.3 2.3M485.3 776.1l-1.6 1.6M422.5 781.6h.1M595.4 817.3h.1M413.8 829.7h.1M469.9 783.4l-1.7 0.3M435.5 808.5l-0.7 1.2M456.9 802.1l2.7 1.3M476.0 829.6l-0.7 1.2M619.4 797.1l0.2 1.9M482.9 813.1l-0.6 1.7M591.6 844.9l0.6 1.4M477.8 791.0l-2.4 0.1M460.3 835.9l-1.3 2.3M427.9 833.4l0.5 2.4M480.8 826.7h.1M447.5 779.8l-0.7 1.0M439.6 842.7l-0.7 1.9M579.5 802.1l-2.6 0.9M419.9 793.9l2.0 0.7M487.6 781.0l-0.4 1.2M484.7 800.4h.1M602.2 820.6l-1.1 2.4M409.9 846.4h.1M457.6 785.5l-0.4 1.6M439.8 780.4l-0.2 2.5M473.0 793.3l-0.3 1.9M538.8 847.0l-2.5 1.2M573.4 843.7h.1M567.8 841.9h.1M587.6 848.0l-0.8 1.2M447.1 781.6h.1M468.1 797.5l-2.5 0.8M476.5 836.7l-1.0 0.8M611.9 776.2h.1M563.4 791.9l1.7 1.8M487.5 822.0l-2.6 0.6M589.8 819.0l2.6 1.3M563.8 779.9h.1M475.9 798.9l-2.6 0.6M510.4 845.1l0.9 2.5M451.3 825.7l1.0 0.8M416.0 821.1l-0.9 1.6M510.5 839.9l-1.5 0.7M486.9 811.0l2.1 0.7M452.0 813.6l1.2 2.6M414.5 782.3l-0.6 1.7M606.3 787.5h.1M530.0 847.0l-2.6 1.5M480.3 799.4l1.6 0.4M562.1 789.2l0.5 2.3M422.7 817.8l-0.6 0.9M520.4 841.2h.1M466.7 780.0l-1.5 1.9M573.0 788.5l-0.0 1.6M477.0 793.2h.1M412.0 827.2l1.2 1.1M411.1 813.9l-0.7 1.4M566.9 818.3l1.6 0.7M488.4 800.0l1.3 1.9M493.9 809.1l-1.3 1.4M532.9 843.7l2.0 0.7M584.6 819.7l-2.3 0.4M589.3 784.3h.1M453.4 828.6h.1M598.0 787.9h.1M614.5 798.0l1.4 1.3M466.5 806.0l-1.7 0.0M433.7 804.4h.1M499.0 844.3l2.3 0.7M503.8 778.0l0.8 0.6M588.1 807.1h.1M562.3 803.4l0.5 1.1M427.0 798.0h.1M440.0 839.1l-0.4 1.5M454.2 818.9l-2.0 1.7M594.8 793.3l1.0 1.2M619.7 802.0l-1.0 2.6M493.7 785.8l0.7 1.2M414.8 817.1l-2.9 0.4M489.4 799.8l1.7 1.4M452.1 813.0l1.8 0.0M429.1 825.6l-1.9 2.2M481.4 838.7l0.5 1.2M460.5 841.9l-0.7 1.1M580.8 836.9l-1.4 0.5M593.9 841.6l-2.1 0.4M484.9 787.1h.1M412.6 784.4l-1.5 0.5M488.4 804.0l-1.1 0.2M459.4 780.4h.1M450.2 825.7l-2.4 1.7M449.6 838.0l0.9 0.8M493.1 775.3h.1M483.9 825.2l-1.9 1.0M483.1 794.3h.1M492.5 847.5l1.9 1.5M467.1 843.5h.1M567.3 785.3l1.6 1.7M537.2 845.5h.1M411.8 837.8l1.0 2.1M574.2 846.2h.1M426.4 794.9h.1M542.9 846.7l-0.9 2.7M572.3 813.4l0.5 2.6M615.2 804.8l-2.1 1.6M566.3 799.4h.1M428.6 805.1l1.8 1.7M479.3 792.1h.1M486.8 803.2h.1M458.3 820.9l-2.9 0.7M549.4 842.8l-0.3 1.6M581.9 847.4l-0.9 1.8M496.5 775.3l-0.2 3.0M428.6 789.4l-2.8 0.1M568.5 813.3l2.6 0.4M487.6 807.3h.1M577.1 811.1h.1M579.7 845.6l-0.4 1.6M421.4 807.4l-1.2 1.0M448.1 810.6l-2.2 0.0M607.7 846.7l1.5 0.3M458.5 804.7h.1M582.1 820.4h.1M458.1 841.8l-0.9 0.9M442.8 786.8l-2.0 0.1M614.7 786.0h.1M409.6 813.4l0.6 0.9M514.6 837.6l1.8 0.0M572.7 797.7l-0.5 0.9M432.6 832.6h.1M499.9 830.5l-2.9 0.5M504.6 792.6l2.0 1.1M493.6 777.5l1.7 0.0M509.2 798.7l-1.1 1.2M413.7 822.7l-1.8 1.4M563.1 781.2l1.1 1.2M595.2 836.4l1.1 0.2M469.4 841.4l-2.7 0.5M568.5 790.4l-1.3 1.7M492.0 804.0h.1M491.4 806.9l1.4 1.9M499.6 834.3l-0.9 2.3M494.1 790.8l-0.6 2.9M560.7 839.7l-1.2 2.1M522.4 838.9l1.4 1.6M462.8 830.2l0.8 2.3M494.7 800.1h.1M608.6 781.8l1.2 0.8M620.4 780.2l-1.1 0.1M454.1 826.3l0.7 0.7M496.5 814.4l0.2 2.9M412.0 846.1l0.0 2.1M479.5 830.5l-0.9 1.5M479.1 828.7l0.0 1.2M440.4 803.0l-0.9 1.8M493.0 788.5l1.7 0.1M418.3 779.2l2.1 0.9M470.7 832.4h.1M468.3 840.3l-1.0 0.4M563.8 780.9l-1.7 1.0M573.8 796.0h.1M484.2 792.0h.1M435.6 794.2l1.5 0.1M432.6 793.0l-0.9 1.6M590.7 777.1l-2.5 0.6M616.8 776.1h.1M445.5 778.0l-1.2 2.6M493.0 786.8l2.4 1.5M428.7 780.3l0.1 1.5M458.7 844.8l-0.8 1.1M505.5 826.2l1.4 0.7M415.1 836.4h.1M445.6 829.3h.1M571.1 792.5l2.1 1.8M414.0 776.2l-0.3 2.0M455.1 786.6l1.1 0.8M618.5 838.8h.1M412.7 778.1l0.3 2.9M619.7 791.4l1.2 1.9M462.0 792.2h.1M496.8 796.4l-0.3 2.1M535.3 840.5l2.6 0.8M420.2 824.8l1.9 0.9M485.2 820.3l-1.5 2.4M611.8 794.5h.1M412.4 832.4l-2.1 0.9M612.4 788.4l0.7 0.7M432.5 846.5l0.5 2.1M608.1 788.8l1.4 1.1M567.4 811.7l0.7 0.8M455.1 801.4l1.0 0.3M599.5 800.9h.1M459.1 789.0h.1M470.4 786.7l-1.2 1.4M436.4 797.2l0.4 2.3M489.3 799.8l2.2 0.3M433.9 827.6l-0.1 2.7M602.5 844.9h.1M603.1 776.3l0.4 1.2M483.8 795.2l2.0 0.1M583.7 842.7l1.7 2.0M491.5 822.8l-0.5 0.9M412.1 827.2l1.8 1.4M616.3 790.9l-0.7 1.5M467.2 800.9l0.8 1.7M588.2 815.9l-1.7 1.0M472.9 825.9l1.1 0.2M410.3 802.7l-1.0 2.5M608.6 809.3l0.4 1.4M488.7 806.2l-0.6 1.4M413.9 812.1l0.3 1.2M616.3 845.2l0.4 1.6M499.4 805.7h.1M412.2 808.0h.1M569.8 793.6l-1.8 2.4M573.0 844.0l-0.2 1.8M589.2 839.0l0.9 1.4M499.9 782.4h.1M482.4 798.7h.1M430.9 841.5h.1M507.0 840.4l-0.1 1.9M577.1 777.6l-1.1 0.4M581.3 777.1l-0.6 1.0M540.9 844.9l-2.0 0.2M611.5 819.5l-1.9 0.6M414.7 829.5h.1M427.9 790.8l-1.2 0.6M607.7 784.4l1.6 2.3M486.0 782.7l-0.7 1.7M466.4 790.5h.1M441.8 803.8l0.5 1.5M465.6 835.3h.1M484.3 787.9h.1M590.8 847.9h.1M485.6 825.0l1.5 0.7M573.4 785.1l-2.3 1.7M473.3 804.5h.1M481.5 826.4l-0.8 1.6M443.9 789.7l0.1 1.3M433.0 814.4h.1M467.9 805.9l-0.8 0.9M596.1 819.2h.1M619.0 820.3h.1M496.6 797.6l-0.1 1.7M582.5 813.6h.1M422.6 827.4l0.9 0.5M595.8 840.0l0.9 1.3M465.5 815.5h.1M563.7 805.2h.1M572.6 845.2l-2.3 1.9M588.7 847.2l-1.6 0.8M583.9 789.0l0.8 1.5M609.0 776.4h.1M618.3 844.0l-1.7 0.0M486.2 831.7l0.4 1.2M528.4 836.3h.1M484.7 779.1l2.1 1.1M577.1 803.6l1.3 1.6M420.4 795.7h.1M455.0 810.9l-2.4 0.4M482.0 777.4l-2.8 0.6M611.1 778.0h.1M460.8 806.6l1.1 0.7M576.9 809.8h.1M476.2 775.7h.1M460.3 778.3h.1M566.6 839.2h.1M498.8 817.3h.1M460.5 829.0h.1M424.0 839.9l-0.8 1.4M593.5 839.1l0.1 1.1M471.9 825.5l0.1 2.2M574.7 808.6l-0.2 2.4M571.8 775.9l1.4 2.4M509.0 828.0l1.0 0.7M502.1 779.6l1.7 2.0M450.5 823.3h.1M615.7 776.3l1.3 1.7M545.4 843.1l-1.8 0.8M433.5 805.5l0.8 1.0M486.9 840.7l-2.2 0.0M509.3 830.5l-0.0 2.1M468.1 835.4l1.9 0.4M474.9 788.2l1.0 2.7M454.6 836.3h.1M466.9 780.7l-0.9 1.0M618.1 779.1l-0.9 2.4M567.4 837.3h.1M596.7 846.8h.1M591.8 836.7l-2.4 1.7M572.7 787.3h.1M600.6 783.4l1.6 2.3M477.7 820.3l2.1 1.2M603.7 801.2l-0.5 1.2M571.7 807.1l1.5 1.3M429.7 788.0h.1M577.1 836.1l1.1 0.2M482.5 844.2h.1M609.7 793.6h.1M461.7 783.0l-0.9 1.1M505.8 787.0l0.8 1.0M502.5 837.1h.1M449.6 822.1l1.7 1.2M541.2 844.4l1.2 1.0M538.0 838.5h.1M448.6 816.6l-0.2 1.3M604.6 810.7l1.9 1.2M577.0 784.9h.1M569.6 788.5h.1M459.9 839.1l0.9 0.4M600.6 817.9h.1M491.3 796.0l-0.7 1.6M429.7 786.8l0.3 1.1M416.1 813.8l0.5 1.4M595.1 838.9h.1M560.5 841.5l-2.3 0.9M455.6 795.9l-1.9 0.1M516.2 839.0l0.1 1.7M466.1 820.9l1.6 0.3M508.9 787.9l-1.2 0.1M497.4 789.4l-1.1 0.6M504.7 780.6l-0.9 2.0M465.2 848.3h.1M565.3 792.7l-1.5 1.4M610.4 814.0h.1M544.6 847.8l0.1 1.3M505.2 838.2l-1.4 0.2M424.8 781.5l-2.1 0.8M574.7 779.6l1.0 1.0M465.8 820.0h.1M473.4 814.5h.1M423.7 822.1l0.4 1.1M460.4 848.2h.1M614.3 810.4h.1M484.2 790.0l-2.3 1.5M433.9 827.4h.1M457.4 842.4l1.6 0.5M609.8 805.9l-0.4 1.7M564.5 784.1l1.5 0.2M466.6 832.7l1.2 1.6M610.4 806.1h.1M617.2 779.6l-0.1 1.9M474.5 794.6l1.5 0.3M435.5 811.7l0.8 1.1M507.4 830.0l1.1 1.5M478.9 832.0h.1M450.2 820.8l-0.4 1.6M508.3 829.6l-2.7 0.7M417.8 825.4h.1M523.2 841.7l1.1 0.3M590.7 799.6l1.8 1.3M454.1 821.5l1.1 1.2M419.3 830.3h.1M620.1 846.0l-2.8 0.0M412.2 783.0h.1M461.5 847.8l-0.9 1.7M508.4 785.8l-1.3 0.7M425.1 796.5l-1.4 1.6M504.1 789.1l-0.6 0.9M497.2 789.9l1.8 1.0M494.3 786.3l-1.0 1.0M564.0 837.2l-1.1 0.1M503.3 792.8l2.1 1.5M480.7 808.9l0.2 2.9M496.4 815.2h.1M558.8 837.6h.1M470.3 807.2h.1M535.7 839.1l0.9 2.0M474.5 782.7l-2.7 1.0M614.6 777.0l1.9 0.3M608.2 800.4l-0.4 1.0M420.2 793.8l-1.0 2.1M459.6 781.6l-1.3 0.9M475.1 823.6l-0.7 1.9M590.5 804.9l-2.6 0.9M418.6 848.2l0.5 1.2M423.3 833.1l-1.3 1.1M589.0 809.7l-2.3 1.5M534.5 837.3h.1M424.6 845.5l-1.4 1.8M580.6 785.6l-0.5 1.7M609.4 805.8l1.3 2.3M577.1 777.5l0.3 1.3M589.8 810.2l-2.6 1.2M466.6 818.6h.1M538.8 846.1h.1M597.5 805.0h.1M438.5 780.9h.1M575.1 838.2h.1M434.4 803.4l0.4 1.6M519.3 836.3l-1.4 1.9M441.5 823.1l1.9 1.1M431.2 796.4h.1M588.0 816.9l-1.8 1.1M499.7 787.3l-1.7 0.1M418.3 830.3l-2.8 0.4M424.9 822.2l-0.9 0.9M478.4 777.4l1.0 0.2M422.5 815.6l0.7 0.9M482.3 826.7l-1.6 0.0M472.8 836.2l-2.1 1.9M593.9 781.9l1.0 0.5M428.2 784.8h.1M603.2 848.3h.1M562.6 785.4l-1.6 0.3M618.2 790.3l1.0 1.1M479.2 845.5l-1.1 0.5M613.4 788.5l0.0 2.7M412.3 780.0l0.3 1.9M608.2 793.8h.1M435.7 788.6l-0.3 1.5M561.7 789.7h.1M437.4 828.5l2.3 0.3M584.1 785.5l-1.5 0.0M618.6 801.3h.1M493.3 809.0l-2.2 0.1M411.1 797.5l-0.0 1.9M472.5 829.5h.1M489.0 808.6h.1M473.0 837.8h.1M557.6 843.3h.1M555.4 842.6h.1M496.9 779.2l0.6 1.1M510.6 841.2h.1M505.9 822.5l-0.2 1.4M571.4 785.2l0.4 1.1M611.1 837.2l1.5 0.6M505.3 824.4l-2.3 1.6M430.0 807.7h.1M607.5 815.5l-1.7 2.3M495.4 791.9l-0.2 1.0M599.7 842.9l0.6 1.2M499.2 840.5h.1M585.2 815.3h.1M476.9 780.5h.1M469.6 792.0h.1M454.9 822.6l-2.0 1.0M471.6 810.5l2.5 0.0M603.3 809.2h.1M472.1 789.9l-1.6 1.7M440.1 782.3l-0.4 1.3M599.8 790.4h.1M613.3 841.5l2.0 0.6M411.3 813.3h.1M501.3 775.5h.1M497.7 789.5h.1M435.7 796.4h.1M575.9 840.3l0.9 1.7M434.2 810.1l-0.6 2.0M617.1 803.1l2.3 0.4M460.0 824.5l-1.0 0.6M572.9 783.8h.1M620.0 798.1l0.8 1.1M569.6 813.7l0.5 1.5M484.5 829.2l-0.8 0.9M608.0 801.9h.1M580.8 794.3l-1.6 0.2M508.3 805.4h.1M513.3 837.0h.1M476.7 816.5h.1M583.6 807.5h.1M441.5 794.8l1.4 1.3M580.9 841.3h.1M561.9 782.6l-1.4 0.6M428.2 813.8l1.6 0.1M602.4 817.0l-2.8 0.9M477.6 799.7l1.8 0.6M434.0 781.8h.1M584.2 815.2l1.9 1.1M437.6 791.1h.1M453.4 813.3l-2.6 0.8M415.3 816.5l-2.7 0.6M483.5 781.4l-0.5 1.9M422.9 844.6l0.6 1.0M479.1 811.2l1.3 2.5M464.1 835.8l-0.5 2.5M415.7 803.3h.1M590.9 781.5l1.1 0.6M474.2 823.3l2.5 1.0M461.6 786.9l1.1 2.4M460.6 782.0l-2.2 0.9M441.3 797.6l-0.4 2.8M513.4 845.6l0.6 2.1M482.3 846.5h.1M487.5 793.3l1.3 2.5M419.9 805.5l0.0 2.4M525.7 846.0h.1M433.2 821.4h.1M610.0 797.5l-0.1 2.9M604.5 839.6h.1M477.9 777.9l-1.8 0.1M477.2 803.8l-2.8 0.2M580.1 785.7l1.4 0.2M603.3 809.8l-2.0 2.2M435.7 778.4l0.6 1.2M616.5 786.5l-2.1 0.5M539.9 841.3l1.0 0.6M433.5 800.6l-2.8 0.3M606.5 809.5l-0.2 1.8M439.8 845.4h.1M434.7 794.4h.1M487.5 790.8l1.5 0.7M445.0 794.9l2.1 0.8M507.3 784.3l2.4 0.6M601.9 818.0l0.0 1.3M409.3 827.9l1.8 2.4M572.4 788.1l-0.9 2.7M470.5 783.5l-0.3 3.0M463.6 822.4l0.6 1.0M489.1 815.4l0.5 1.1M612.7 776.0l-3.0 0.2M467.0 839.0l0.6 2.8M483.5 781.2l1.2 1.3M459.1 783.7h.1M461.3 777.7l-1.4 1.3M415.3 834.4l-0.5 2.7M509.1 846.1h.1M463.7 830.1l2.4 0.2M413.6 815.1l-0.3 1.5M589.1 788.7h.1M580.2 790.5l-1.3 0.3M421.0 809.7l0.3 1.0M469.5 838.2l1.0 0.4M428.8 832.1l1.3 2.7M596.4 809.3h.1M588.6 785.6h.1M459.5 803.4l-0.4 1.0M461.8 827.2h.1M509.0 778.1l0.5 2.4M474.4 806.1h.1M580.9 791.0l-1.8 0.6M457.9 842.5l1.3 1.1M495.4 793.7l2.3 1.3M602.1 776.9l1.2 2.5M615.3 781.1l0.2 1.3M420.4 821.1l0.3 1.8M562.2 777.1h.1M590.7 815.1h.1M578.5 809.3l-2.1 1.5M479.4 797.9l-1.9 1.8M486.2 821.9h.1M425.3 831.4h.1M570.5 840.9l1.1 1.7M480.7 790.7h.1M535.4 841.4l-0.5 2.3M577.4 805.0h.1M457.0 784.0l-2.1 1.8M537.3 841.0l-1.0 0.9M547.6 835.9l2.4 0.6M459.2 787.4l-2.3 0.9M420.4 810.7l-0.8 1.7M514.8 843.1l-1.2 0.9M498.0 845.0l-0.5 0.9M498.6 839.9l2.4 0.0M610.9 805.4l2.1 1.6M590.6 842.2h.1M473.7 838.8h.1M560.1 775.2l2.3 0.7M412.8 794.1h.1M425.8 783.7l-2.8 0.5M491.0 798.8h.1M537.2 840.8h.1M516.8 848.0l-0.7 2.7M600.1 796.4l0.8 0.7M588.6 802.3h.1M573.6 791.9l-1.4 0.6M499.3 838.7h.1M458.9 787.5h.1M468.5 775.6l-1.3 1.5M417.6 822.2l0.3 1.2M495.5 782.9h.1M465.2 826.4l1.1 2.2M603.8 804.7l2.2 0.4M430.0 843.2l1.6 1.2M438.1 781.0h.1M518.3 845.6l-1.6 1.1M584.6 812.9l-0.1 1.9M478.0 838.3l2.5 0.8M454.8 837.3l-1.9 0.5M472.2 787.7l-1.5 2.0M468.7 783.4l-0.7 1.2M478.5 844.6h.1M521.4 836.9l0.4 1.3M602.8 839.3l1.8 1.6M458.3 827.2l0.5 2.3M500.7 841.7h.1M415.6 804.8l0.6 2.5M478.2 840.4l0.2 1.1M475.3 821.1l2.7 0.3M616.7 801.9l1.3 1.6M585.5 846.9h.1M439.5 848.2l-2.2 0.6M473.4 803.6l-2.5 1.2M617.1 799.3h.1M572.3 782.3l-1.8 1.9M495.8 791.7h.1M579.7 790.8l0.1 1.2M409.2 802.9l-1.2 0.0M607.7 779.8l-0.4 2.1M421.1 837.2l1.5 2.4M492.9 796.4l-0.3 1.4M606.9 788.7l1.7 1.4M457.7 846.7h.1M507.8 787.4l0.6 2.3M606.2 809.9h.1M491.8 830.6l0.3 1.7M455.6 798.1l-1.0 2.8M497.1 829.7l1.8 1.7M439.9 820.4l-1.8 0.1M566.2 845.4l2.8 0.8M544.1 847.2l1.6 1.4M462.9 847.8l2.3 0.7M497.2 844.6l-2.3 0.8M418.6 784.9l-2.6 0.9M576.4 791.1l-1.4 2.5M610.1 806.5l1.6 0.0M609.7 812.5h.1M462.4 784.7l-1.8 1.2M503.3 779.9l-0.3 1.1M437.0 808.6l-1.5 0.7M412.0 798.7l2.0 0.7M409.5 833.9l-1.0 2.8M463.2 807.3l-1.3 0.8M436.6 806.1l-1.3 0.6M481.0 830.2l1.4 1.6M435.6 812.8l0.7 2.0M615.6 781.3l1.5 2.3M458.9 824.5l-1.5 1.7M587.0 839.4l-1.5 0.8M461.1 782.0l-1.3 0.9M473.1 834.2h.1M460.7 821.6l1.2 0.9M460.2 808.0l-0.2 2.0M474.7 838.2h.1M463.1 777.9l-0.4 1.5M609.8 818.1l-0.3 2.2M593.2 836.1l0.5 0.9M476.9 832.0l0.6 2.3M514.8 847.5l-1.2 0.3M423.4 822.8l-1.4 1.0M435.1 799.4l-2.4 0.1M576.8 809.0l-0.2 2.6M605.7 808.9l-1.0 2.7M612.4 780.2h.1M617.9 817.5h.1M429.5 776.2l0.3 1.0M565.1 794.0l0.7 0.8M502.8 776.0h.1M610.4 809.6l0.6 0.9M606.8 789.6l-0.8 1.3M466.4 836.9l0.4 1.5M433.3 847.9h.1M522.2 837.7l1.6 0.6M498.2 790.5h.1M528.5 848.1l-0.8 0.8M581.8 802.3h.1M570.7 809.2h.1M490.0 830.5h.1M613.5 790.3l-1.4 1.6M476.8 813.1l1.0 0.3M482.5 814.2l-1.6 0.4M461.7 812.8h.1M495.4 838.3l0.5 1.7M507.3 790.9l-1.0 0.9M410.9 795.5l0.8 2.6M480.4 776.5h.1M558.5 844.2l-2.4 0.7M487.1 828.2h.1M484.4 820.5l1.7 2.0M438.2 780.3l-0.0 2.7M411.5 824.8l-1.8 1.2M617.3 787.4l-1.1 0.6M615.7 815.5l1.2 1.8M532.6 838.3l0.5 0.9M455.7 828.4l2.7 0.8M557.8 839.8l0.7 0.7M424.7 823.5l-0.9 1.3M567.4 787.2l1.6 1.8M469.9 826.7l1.8 1.9M470.1 780.7l2.1 1.1M433.2 798.8l2.2 0.3M582.9 803.0l0.2 2.2M487.9 794.5h.1M561.2 791.0h.1M440.7 779.6l-1.8 1.2M506.1 816.5l-1.8 1.6M451.0 824.5h.1M460.1 797.8l-0.8 2.3M410.1 790.4l1.7 2.0M587.4 840.9l1.1 0.9M459.7 789.1l2.0 0.6M602.6 844.7l2.0 0.4M432.2 784.5l-0.8 2.4M504.0 788.5h.1M546.3 838.2l-0.7 1.1M614.1 794.3l1.2 0.8M413.0 816.5h.1M475.1 831.4l0.5 2.8M614.5 790.9h.1M604.0 839.5l0.5 2.3M456.7 790.7h.1M474.6 842.6l-1.8 1.3M576.9 811.6h.1M445.6 822.7l-0.9 0.9M501.7 831.9l1.1 0.0M576.8 817.9l-1.0 1.6M511.6 845.7h.1M437.3 783.3h.1M421.8 842.4l-1.8 1.1M575.6 817.6l0.2 1.2M616.3 776.1h.1M610.1 804.7l-1.0 1.2M458.3 844.2l1.2 0.7M410.7 835.1h.1M603.2 790.2l-0.8 2.7M577.8 820.6l-1.5 1.0M504.7 847.0l0.9 0.9M579.7 841.2l1.3 0.1M596.7 809.0l1.3 0.3M479.8 834.6l-1.8 1.3M602.9 796.1h.1M613.2 792.3l1.3 2.2M588.7 811.3l-1.4 0.7M619.9 846.8h.1M432.5 846.2h.1M454.1 835.0h.1M506.3 785.2l-2.6 0.2M470.2 804.7l0.0 2.1M431.8 795.9h.1M434.0 836.3l0.3 1.5M488.3 783.4h.1M496.1 780.6h.1M555.3 845.0h.1M427.9 813.5h.1M562.1 789.7h.1M409.4 817.0l-1.2 2.6M516.8 843.4l0.1 1.3M573.4 776.9h.1M568.2 805.4l-2.1 1.0M414.6 823.0l0.5 1.4M470.6 794.7h.1M570.9 790.3l2.2 1.6M615.8 819.7h.1M549.9 846.1l0.5 2.5M470.6 805.4l-1.8 0.3M584.3 845.5h.1M506.5 781.5l-0.7 2.6M483.8 831.6l-0.2 2.9M566.2 790.1l2.6 0.8M496.3 824.3h.1M612.9 839.7h.1M473.3 841.6l-1.9 1.4M505.7 838.0l1.1 2.7M524.1 846.2h.1M430.5 821.5h.1M432.9 816.7l-1.4 1.7M499.9 833.9l-1.6 1.6M559.5 840.7h.1M493.7 801.6h.1M576.7 815.4h.1M476.4 846.8l-1.2 2.4M473.0 842.2l-0.3 1.4M616.6 787.4l0.2 1.4M502.8 836.6l-1.1 1.4M514.6 844.9l2.0 1.6M494.0 780.4h.1M425.9 785.0l-0.5 1.1M600.1 810.1l-1.2 1.8M493.4 811.0l2.0 2.1M472.0 836.1l2.5 0.4M526.3 838.1l0.2 1.2M485.2 791.6l0.4 1.7M575.3 844.9l-1.5 0.9M501.3 836.9l0.2 2.5M484.7 787.9l2.2 1.8M451.7 845.8l0.4 1.0M614.5 789.9l-2.8 0.7M571.6 802.6l0.1 1.7M491.5 832.6l-1.2 0.4M599.5 837.4l2.8 0.9M471.5 786.1l-0.3 2.8M565.4 795.6l-1.1 1.1M431.0 805.8l-1.3 2.1M453.5 838.9l-1.1 0.6M597.4 779.9h.1M417.4 810.3l0.3 1.7M493.3 805.1l1.6 0.7M488.8 822.0h.1M508.9 798.8l-1.8 1.3M594.6 810.8l-2.1 1.6M581.8 786.6l-0.8 0.8M577.0 801.2l0.9 1.4M476.5 834.6l1.1 1.2M561.7 791.7l-2.8 0.6M451.7 786.9l0.5 2.9M483.9 830.2l-2.4 0.1M483.6 802.7l-0.9 1.7M431.6 802.3l-0.1 1.0M563.7 846.1l1.3 0.1M491.2 826.4l0.1 1.8M438.1 797.4h.1M504.4 844.8l1.1 1.2M494.9 839.0h.1M484.2 779.8h.1M567.5 780.0h.1M454.8 804.8l-1.5 2.5M589.4 845.8l-2.0 1.8M573.8 785.2l1.1 0.5M607.8 807.9l1.4 0.6M439.9 824.8l-1.7 1.2M413.2 802.9h.1M436.5 785.3l-1.2 2.0M560.3 793.4h.1M565.2 784.2l-1.8 1.3M488.8 785.8h.1M570.8 806.6l-0.2 1.2M411.0 817.2l-2.4 0.7M506.8 776.1l0.9 0.9M484.7 791.9l2.0 1.4M494.4 787.0l1.3 0.8M471.1 835.0h.1M467.2 842.4l1.7 2.0M470.6 776.4h.1M576.9 789.7l1.4 0.2M569.3 811.5l-2.1 1.3M610.2 814.7l1.7 0.3M513.0 840.3l-0.3 1.9M452.6 819.9l0.1 2.3M600.5 841.9h.1M598.8 776.9l-0.4 1.3M505.1 788.2l-2.5 1.5M468.9 813.8l-2.8 0.6M576.1 785.1l-0.3 1.0M503.2 832.3l-2.8 0.7M591.5 775.3l0.5 1.4M469.1 841.7l-0.0 1.1M421.6 786.7l0.6 1.0M486.1 808.9l1.4 1.8M600.7 807.6l-1.5 2.5M470.1 801.9l1.8 2.1M426.1 798.8h.1M568.6 843.4l1.6 1.3M503.9 845.5l-0.4 1.6M594.5 793.6h.1M466.1 784.5h.1M587.7 795.8l-2.6 0.4M511.4 846.3l-1.3 1.2M614.4 778.0l-0.4 1.1M609.6 844.3l-2.3 1.2M466.0 799.4l-1.2 1.0M468.9 799.3h.1M569.4 781.9l0.7 1.0M427.9 777.1l1.5 0.5M618.6 799.4l2.7 1.3M598.5 818.3h.1M499.7 846.2l2.8 0.4M502.8 841.9l0.5 2.1M470.5 787.7l-0.7 0.7M432.2 822.3l-1.8 0.5M484.9 838.3l-0.5 0.9M496.9 817.7h.1M617.7 787.9l0.1 2.4M620.2 805.8l-1.1 2.2M453.2 837.5l-2.8 0.4M437.8 816.1h.1M597.2 788.9l1.4 0.5M583.5 785.7l-2.8 0.4M463.5 788.8l1.3 0.1M429.7 806.1l-1.3 2.6M482.0 784.9h.1M481.9 817.2l-1.4 0.3M584.7 793.7l-0.3 1.2M466.3 806.6l-1.4 0.5M433.4 828.8l1.1 1.0M564.0 806.0l-1.5 1.2M474.5 822.0l1.4 0.1M499.9 798.1l1.2 0.2M507.3 785.8h.1M476.3 816.9l1.2 0.2M428.2 816.8l-1.2 0.1M600.6 840.7h.1M437.6 778.2l0.9 2.5M520.3 846.2l0.3 1.5M496.8 835.1h.1M421.6 789.3h.1M475.7 819.9l-1.5 1.4M467.2 802.6l-0.1 1.0M474.8 815.9h.1M598.4 776.2l-1.0 0.4M568.3 836.5l0.2 1.6M585.5 779.4l-1.7 1.9M493.4 792.2l0.9 0.9M619.6 784.7h.1M607.3 794.8h.1M496.7 793.7l2.6 1.1M424.1 807.9h.1M596.2 803.3h.1M432.8 776.6l-2.4 1.3M422.5 817.6l-0.2 1.7M460.3 798.0l0.1 3.0M592.4 840.8h.1M589.5 846.7l2.8 0.1M424.3 824.0h.1M499.2 787.7l0.4 1.3M410.5 845.8h.1M477.1 785.5l-0.9 1.1M488.1 783.6h.1M486.4 787.1l-0.3 1.4M566.4 791.3l-0.9 1.4M569.0 840.9h.1M602.3 842.3l-1.2 2.2M492.1 798.0l0.8 2.4M431.8 843.5l0.1 1.7M614.5 838.7l1.1 2.1M428.5 793.4h.1M496.4 782.0h.1M485.9 813.9h.1M548.9 846.3l-2.6 0.3M601.6 846.1l-1.4 1.1M426.4 781.2h.1" stroke="#000" stroke-width="1.25" stroke-linecap="round" fill="none"/>
<path d="M406.3 773 H511.5 V833.7 H622.6 V850.5 H406.3 Z" stroke-width="1.7"/>
<path d="M557.9 773 H622.6 V822.9 H557.9 Z" stroke-width="1.7"/>
<line x1="406.3" y1="773" x2="622.6" y2="773" stroke-width="1.7"/>
<rect x="366" y="782" width="40.3" height="19" fill="url(#hatch)" stroke="none"/>
<rect x="622.6" y="782" width="39.4" height="18.3" fill="url(#hatch)" stroke="none"/>
<line x1="366" y1="781.6" x2="406.3" y2="781.6" stroke-width="1.6"/>
<line x1="622.6" y1="781.4" x2="662" y2="781.4" stroke-width="1.6"/>
<path d="M448.9 614.8 H419.7 V755.4 Q419.7 757.9 422.2 757.9 H448.9" stroke-width="1.6"/>
<path d="M446.4 602.3 H507 V606.7 H448 Z" stroke-width="1.5"/>
<line x1="448.9" y1="606.7" x2="448.9" y2="765"/>
<line x1="506" y1="602" x2="506" y2="773"/>
<line x1="448.9" y1="765" x2="506" y2="765" stroke-width="2.2"/>
<rect x="445.6" y="765" width="60.4" height="7.7" stroke-width="1.5"/>
<line x1="446" y1="765" x2="446" y2="772.7" stroke-width="2.2"/>
<rect x="456.6" y="609.2" width="3.8" height="17.8" stroke-width="1.8" rx="1.5"/>
<rect x="494.3" y="609.2" width="4.1" height="17.8" stroke-width="1.8" rx="1.5"/>
<rect x="479.5" y="636.4" width="26.5" height="50.7" stroke-width="1.6"/>
<line x1="479.5" y1="640.6" x2="506" y2="640.6" stroke-width="1.6"/>
<line x1="479.5" y1="659.9" x2="506" y2="659.9" stroke-width="1.6"/>
<rect x="508" y="581.9" width="55.5" height="5.1" stroke-width="1.7"/>
<line x1="514" y1="582" x2="514" y2="587" stroke-width="1.8"/>
<line x1="536.5" y1="582" x2="536.5" y2="587" stroke-width="1.8"/>
<line x1="559" y1="582" x2="559" y2="587" stroke-width="1.8"/>
<line x1="509.5" y1="587" x2="509.5" y2="602.5"/>
<line x1="563.2" y1="587" x2="563.2" y2="773"/>
<rect x="524.3" y="603" width="10" height="21.6" fill="#000" stroke="none" rx="2"/>
<rect x="524.3" y="730.7" width="10" height="21.6" fill="#000" stroke="none" rx="2"/>
<rect x="536.9" y="603" width="10" height="21.6" fill="#000" stroke="none" rx="2"/>
<rect x="536.9" y="730.7" width="10" height="21.6" fill="#000" stroke="none" rx="2"/>
<path d="M563.4 673.2 H566 Q568.9 673.2 568.9 676.2 V687 Q568.9 689.9 566 689.9 H563.4" stroke-width="2.2"/>
<rect x="565.2" y="675.5" width="1.6" height="5.5" fill="#000" stroke="none"/>
<circle cx="508.8" cy="601" r="1.4" fill="#000" stroke="none"/>
<circle cx="508.8" cy="605" r="1.4" fill="#000" stroke="none"/>
<circle cx="508.8" cy="625" r="1.4" fill="#000" stroke="none"/>
<circle cx="508.8" cy="644.4" r="1.4" fill="#000" stroke="none"/>
<circle cx="508.8" cy="666" r="1.4" fill="#000" stroke="none"/>
<circle cx="508.8" cy="691.9" r="1.4" fill="#000" stroke="none"/>
<circle cx="508.8" cy="715.1" r="1.4" fill="#000" stroke="none"/>
<circle cx="508.8" cy="741.4" r="1.4" fill="#000" stroke="none"/>
<circle cx="508.8" cy="765.4" r="1.4" fill="#000" stroke="none"/>
<line x1="386.8" y1="602.6" x2="386.8" y2="772.9" stroke-width="1.1" stroke="#333"/>
<path d="M386.8 602.6 L384.7 614.6 L388.9 614.6 Z" fill="#000" stroke="none"/>
<path d="M386.8 772.9 L384.7 760.9 L388.9 760.9 Z" fill="#000" stroke="none"/>
<line x1="385" y1="602.6" x2="446.4" y2="602.6" stroke-width="0.9" stroke="#555"/>
<line x1="385" y1="772.9" x2="406" y2="772.9" stroke-width="0.9" stroke="#555"/>
<line x1="419.7" y1="706.5" x2="563.2" y2="706.5" stroke-width="1.2"/>
<path d="M420.1 706.5 L430.6 704.4 L430.6 708.6 Z" fill="#000" stroke="none"/>
<path d="M448.5 706.5 L438 704.4 L438 708.6 Z" fill="#000" stroke="none"/>
<path d="M449.3 706.5 L460.3 704.4 L460.3 708.6 Z" fill="#000" stroke="none"/>
<path d="M505.6 706.5 L494.6 704.2 L494.6 708.8 Z" fill="#000" stroke="none"/>
<path d="M506.4 706.5 L518.4 704.1 L518.4 708.9 Z" fill="#000" stroke="none"/>
<path d="M562.8 706.5 L550.3 704.1 L550.3 708.9 Z" fill="#000" stroke="none"/>
<line x1="585.2" y1="582.6" x2="585.2" y2="772.7" stroke-width="1.2"/>
<path d="M585.2 582.8 L583.1 594.8 L587.3 594.8 Z" fill="#000" stroke="none"/>
<path d="M585.2 772.5 L583.1 760.5 L587.3 760.5 Z" fill="#000" stroke="none"/>
<line x1="563.5" y1="582.6" x2="587" y2="582.6" stroke-width="0.9" stroke="#555"/>
<line x1="400.2" y1="750" x2="400.2" y2="783" stroke-width="1.2"/>
<path d="M400.2 765.2 L398.1 754.2 L402.3 754.2 Z" fill="#000" stroke="none"/>
<path d="M400.2 773.1 L398.1 782.1 L402.3 782.1 Z" fill="#000" stroke="none"/>
<line x1="400.7" y1="765.4" x2="445.7" y2="765.4" stroke-width="0.9" stroke="#444"/>
<text transform="translate(383.8 679.7) rotate(-90)" x="0" y="0" font-size="12.5" fill="#1a1a1a" stroke="#1a1a1a" stroke-width="0.3" text-anchor="middle" textLength="32.5" lengthAdjust="spacingAndGlyphs">1570</text>
<text transform="translate(400.4 679.1) rotate(-90)" x="0" y="0" font-size="12.5" fill="#1a1a1a" stroke="#1a1a1a" stroke-width="0.3" text-anchor="middle" textLength="49.8" lengthAdjust="spacingAndGlyphs">( 1715 )</text>
<text transform="translate(583.4 676.9) rotate(-90)" x="0" y="0" font-size="12.5" fill="#1a1a1a" stroke="#1a1a1a" stroke-width="0.3" text-anchor="middle" textLength="30.3" lengthAdjust="spacingAndGlyphs">1800</text>
<text transform="translate(600.2 677.5) rotate(-90)" x="0" y="0" font-size="12.5" fill="#1a1a1a" stroke="#1a1a1a" stroke-width="0.3" text-anchor="middle" textLength="49.7" lengthAdjust="spacingAndGlyphs">( 2020 )</text>
<text transform="translate(398.7 764.3) rotate(-90)" x="0" y="0" font-size="11" fill="#1a1a1a" stroke="#1a1a1a" stroke-width="0.3" text-anchor="middle" textLength="15.7" lengthAdjust="spacingAndGlyphs">55</text>
<text x="434.9" y="703.3" font-size="13.5" fill="#1a1a1a" stroke="#1a1a1a" stroke-width="0.3" text-anchor="middle" textLength="22.5" lengthAdjust="spacingAndGlyphs">350</text>
<text x="477.3" y="703.9" font-size="13.5" fill="#1a1a1a" stroke="#1a1a1a" stroke-width="0.3" text-anchor="middle" textLength="21.7" lengthAdjust="spacingAndGlyphs">604</text>
<text x="535.8" y="701.1" font-size="13.5" fill="#1a1a1a" stroke="#1a1a1a" stroke-width="0.3" text-anchor="middle" textLength="38.2" lengthAdjust="spacingAndGlyphs">( 750 )</text>
<text x="513.9" y="807.8" font-size="13" fill="#262626" stroke="#262626" stroke-width="0.3" textLength="40" lengthAdjust="spacingAndGlyphs" font-weight="500">电缆沟</text></svg>
</body></html>
